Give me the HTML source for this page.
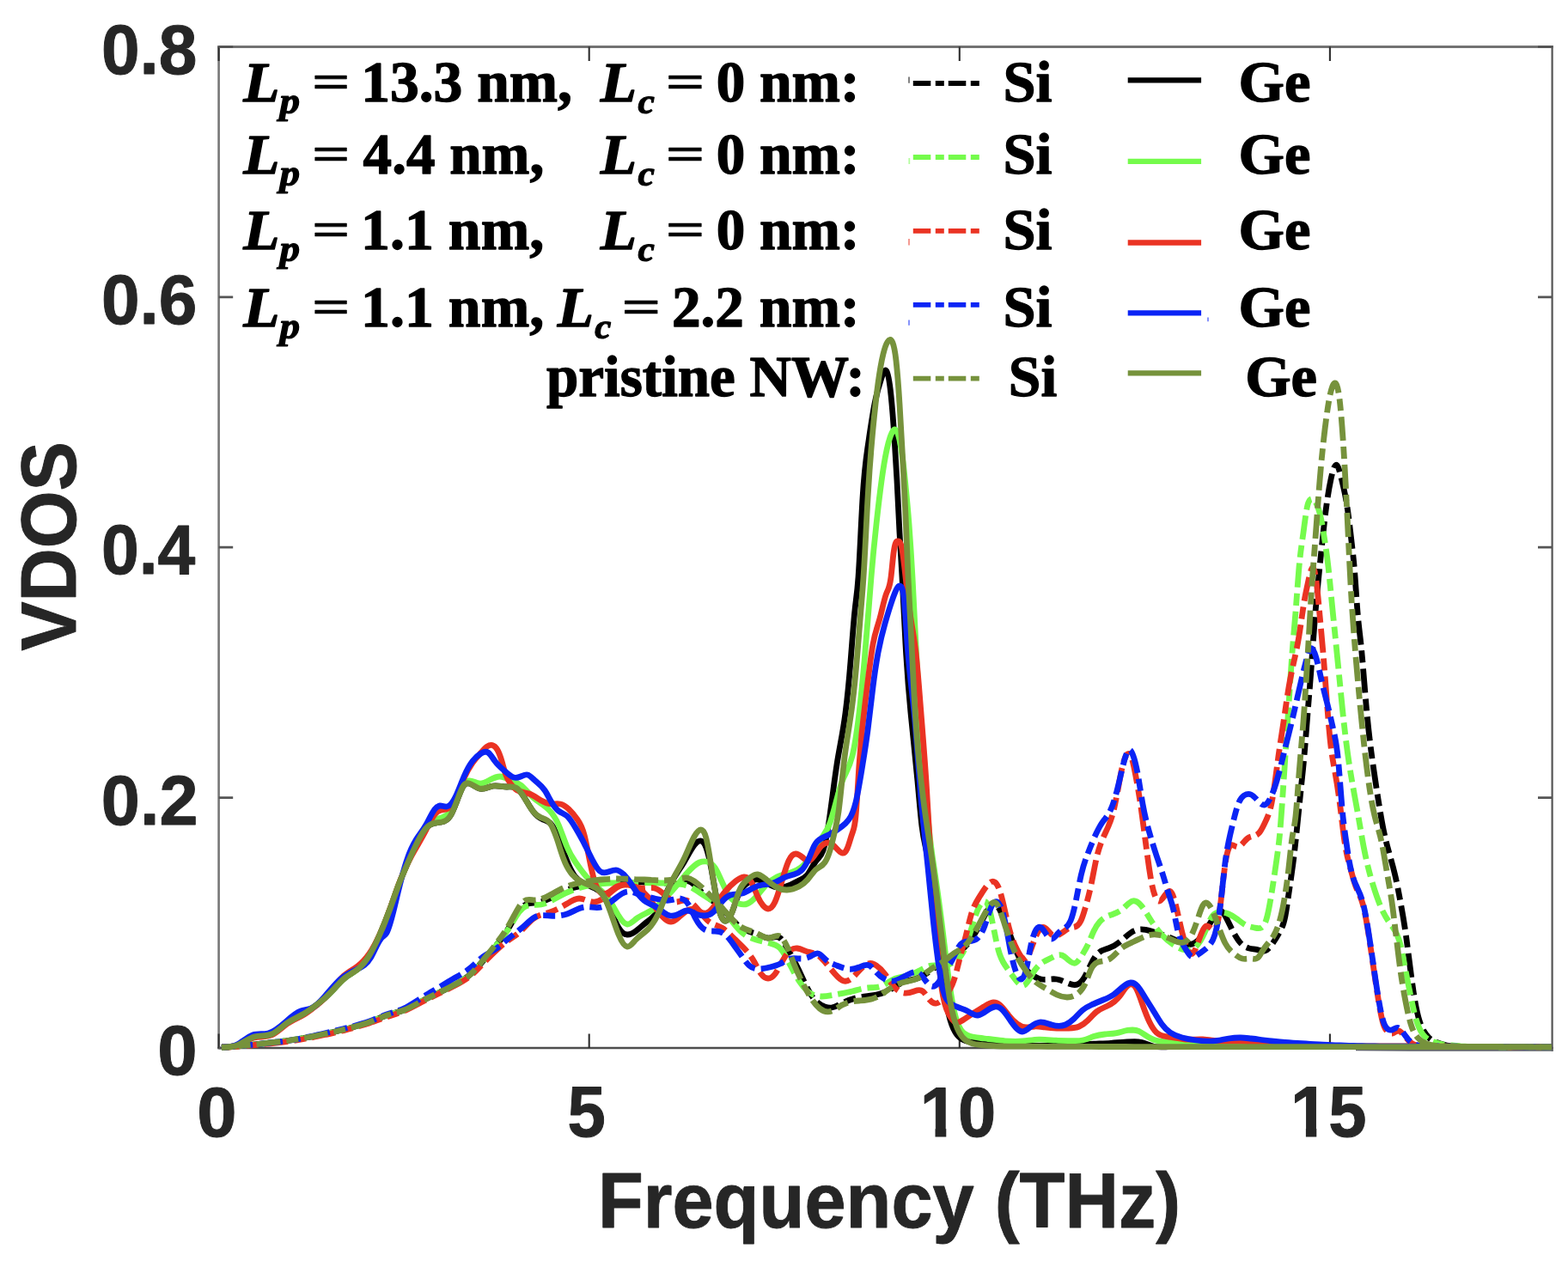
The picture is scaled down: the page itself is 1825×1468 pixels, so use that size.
<!DOCTYPE html>
<html lang="en"><head><meta charset="utf-8"><title>VDOS</title>
<style>
html,body{margin:0;padding:0;background:#fff;}
body{width:1825px;height:1468px;overflow:hidden;}
svg{display:block;}
.ax{font-family:"Liberation Sans",Arial,Helvetica,sans-serif;font-weight:bold;fill:#262626;stroke:#262626;stroke-width:0.9px;stroke-linejoin:round;}
.lg{font-family:"Liberation Serif","Times New Roman",Times,serif;font-weight:bold;fill:#000;font-size:68px;stroke:#000;stroke-width:1.3px;stroke-linejoin:round;}
.eq{stroke-width:0.8px;}
.it{font-style:italic;}
.sub{font-style:italic;font-size:47px;}
.cv{fill:none;stroke-width:6.8;stroke-linejoin:round;stroke-linecap:butt;}
.ds{stroke-dasharray:28 7 14 7;}
</style></head>
<body>
<svg width="1825" height="1468" viewBox="0 0 1825 1468">
<rect x="0" y="0" width="1825" height="1468" fill="#ffffff"/>
<g id="axes" fill="none">
<path d="M253.3 54.45H1807.7" stroke="#727272" stroke-width="2.9"/>
<path d="M254.6 53.1V1221.2" stroke="#777777" stroke-width="2.6"/>
<path d="M253.3 1220.0H1807.7" stroke="#4d4d4d" stroke-width="2.4"/>
<path d="M1806.6 53.1V1223.7" stroke="#555555" stroke-width="2.2"/>
<path d="M1578 1222.4L1640 1222.9H1807.7" stroke="#62666a" stroke-width="1.9"/>
<path d="M254.6 1220V1203.4M254.6 54.5V71.1M685.7 1220V1203.4M685.7 54.5V71.1M1116.8 1220V1203.4M1116.8 54.5V71.1M1547.9 1220V1203.4M1547.9 54.5V71.1" stroke="#2e2e2e" stroke-width="2.1"/>
<path d="M254.6 1220H271.2M1806.6 1220H1790M254.6 928.6H271.2M1806.6 928.6H1790M254.6 637.2H271.2M1806.6 637.2H1790M254.6 345.8H271.2M1806.6 345.8H1790M254.6 54.5H271.2M1806.6 54.5H1790" stroke="#555555" stroke-width="2.8"/>
</g>
<g id="ticklabels" class="ax" font-size="80">
<text transform="matrix(1.0436 0 0 1.0246 183.37 1251.18)">0</text>
<text transform="matrix(1.0124 0 0 1.0246 117.86 959.79)">0.2</text>
<text transform="matrix(0.9843 0 0 1.0246 117.95 668.40)">0.4</text>
<text transform="matrix(1.0028 0 0 1.0246 117.89 377.01)">0.6</text>
<text transform="matrix(1.0028 0 0 1.0246 117.89 85.63)">0.8</text>
<text transform="matrix(1.0410 0 0 1.0228 229.18 1322.98)">0</text>
<text transform="matrix(0.9976 0 0 1.0411 660.60 1322.96)">5</text>
<text transform="matrix(0.9938 0 0 1.0228 1070.73 1322.98)">10</text>
<text transform="matrix(0.9951 0 0 1.0411 1502.02 1322.96)">15</text>
</g>
<path id="onefoot" fill="#ffffff" d="M1073 1314h15.5v12h-15.5zM1101.3 1314h14v12h-14zM1504 1314h15.9v12h-15.9zM1532.3 1314h14v12h-14z"/>
<g id="axislabels" class="ax" font-size="89.5">
<text transform="matrix(0.9676 0 0 1.0050 695.89 1429.40)">Frequency (THz)</text>
<text transform="matrix(0.0000 -0.9610 1.0200 0.0000 88.40 757.80)">VDOS</text>
</g>
<g id="curves">
<path class="cv ds" stroke="#000000" stroke-dashoffset="19.6" d="M258 1219.5C261.2 1219.2 264.3 1219 267.5 1218.7C270.7 1218.4 273.8 1218.2 277 1217.9C280.2 1217.6 283.3 1217.3 286.5 1217C289.7 1216.6 292.8 1216.3 296 1216C299.5 1215.6 303 1215.3 306.5 1214.9C310 1214.5 313.5 1214.1 317 1213.7C320.5 1213.3 324 1212.9 327.5 1212.4C331 1212 334.5 1211.5 338 1211C341.5 1210.5 344.9 1209.9 348.4 1209.4C351.9 1208.8 355.3 1208.2 358.8 1207.5C362.3 1206.9 365.7 1206.2 369.2 1205.5C372.7 1204.8 376.1 1204.1 379.6 1203.3C383.1 1202.6 386.5 1201.8 390 1201C393.3 1200.2 396.7 1199.4 400 1198.6C403.3 1197.8 406.7 1196.9 410 1196C413.3 1195.1 416.7 1194.1 420 1193.2C423.3 1192.2 426.7 1191.2 430 1190C436.7 1187.6 443.3 1184.3 450 1182C456.7 1179.7 463.3 1178.5 470 1176C476.7 1173.5 483.3 1169.6 490 1166C496.7 1162.4 503.3 1159.2 510 1156C516.7 1152.8 523.3 1149.6 530 1146C536.7 1142.4 543.3 1138.3 550 1132C554 1128.2 558 1123.6 562 1119C567.3 1112.8 572.7 1106.6 578 1100C583.3 1093.4 588.7 1086.3 594 1077C597.3 1071.2 600.7 1064.5 604 1060C606.7 1056.4 609.3 1054.2 612 1053C616 1051.2 620 1051.4 624 1051C629.3 1050.4 634.7 1048.5 640 1046C646.7 1042.8 653.3 1038.7 660 1036C664.7 1034.1 669.3 1033 674 1032C676.9 1031.4 679.8 1030.8 682.7 1030.3C685.6 1029.8 688.4 1029.3 691.3 1028.9C694.2 1028.6 697.1 1028.3 700 1028C706 1027.5 712 1027.1 718 1027C721.6 1026.9 725.1 1027 728.7 1027C732.2 1027 735.8 1027 739.3 1027C742.9 1027 746.4 1026.9 750 1027C752.7 1027 755.3 1027.1 758 1027.3C760.7 1027.4 763.3 1027.6 766 1027.7C768.7 1027.9 771.3 1028 774 1028C777.1 1028 780.2 1027.7 783.3 1027.5C786.4 1027.3 789.6 1027.1 792.7 1026.5C795.8 1026 798.9 1025 802 1026C806.7 1027.5 811.3 1033.4 816 1038C822.7 1044.5 829.3 1048.3 836 1054C840.7 1058 845.3 1063 850 1068C854.7 1073 859.3 1078.1 864 1081C869.3 1084.4 874.7 1084.9 880 1087C885.3 1089.1 890.7 1092.6 896 1092C900 1091.6 904 1088.8 908 1092C910 1093.6 912 1096.7 914 1100C916.7 1104.4 919.3 1109 922 1114C924.7 1119 927.3 1124.3 930 1130C934.7 1139.9 939.3 1150.7 944 1158C949.3 1166.4 954.7 1170.1 960 1172C962.7 1172.9 965.3 1173.4 968 1173C972 1172.4 976 1170 980 1168C986.7 1164.6 993.3 1162.3 1000 1161C1006.7 1159.7 1013.3 1159.4 1020 1158C1025.3 1156.8 1030.7 1154.9 1036 1152C1040.7 1149.4 1045.3 1146.1 1050 1144C1056.7 1141.1 1063.3 1140.8 1070 1138C1075.3 1135.7 1080.7 1131.8 1086 1128C1090.7 1124.7 1095.3 1121.4 1100 1118C1103.3 1115.5 1106.7 1113 1110 1111C1113.3 1109 1116.7 1107.6 1120 1105C1124.7 1101.4 1129.3 1095.6 1134 1088C1138 1081.4 1142 1073.5 1146 1066C1148.7 1061 1151.3 1056.2 1154 1054C1156 1052.4 1158 1052.2 1160 1054C1162 1055.8 1164 1059.6 1166 1064C1168.7 1069.9 1171.3 1076.8 1174 1084C1177.3 1093 1180.7 1102.3 1184 1110C1187.3 1117.7 1190.7 1123.8 1194 1128C1196 1130.5 1198 1132.4 1200 1134C1204 1137.2 1208 1139.3 1212 1140C1218 1141.1 1224 1139.1 1230 1140C1234.7 1140.7 1239.3 1143.2 1244 1145C1247.3 1146.3 1250.7 1147.3 1254 1146C1256.7 1144.9 1259.3 1142.4 1262 1138C1264.7 1133.6 1267.3 1127.3 1270 1122C1272 1118 1274 1114.5 1276 1112C1280.7 1106.1 1285.3 1105.6 1290 1104C1294.7 1102.4 1299.3 1099.8 1304 1096C1308 1092.8 1312 1088.7 1316 1086C1319.3 1083.7 1322.7 1082.4 1326 1082C1330.7 1081.4 1335.3 1082.6 1340 1084C1344 1085.2 1348 1086.6 1352 1088C1358 1090.1 1364 1092.3 1370 1095C1376.7 1098 1383.3 1101.6 1390 1098C1394.7 1095.5 1399.3 1089.4 1404 1082C1407.3 1076.7 1410.7 1070.7 1414 1066C1416.7 1062.3 1419.3 1059.4 1422 1061C1424 1062.2 1426 1066 1428 1070C1430.7 1075.3 1433.3 1081.1 1436 1086C1438.7 1090.9 1441.3 1095.1 1444 1098C1447.3 1101.6 1450.7 1103.1 1454 1104C1457.7 1104.9 1461.3 1105 1465 1106C1467.3 1106.6 1469.7 1107.6 1472 1107C1474.7 1106.3 1477.3 1103.5 1480 1100C1483.3 1095.6 1486.7 1090.1 1490 1084C1492 1080.3 1494 1076.4 1496 1066C1497.3 1059.1 1498.7 1049.2 1500 1040C1501.7 1028.5 1503.3 1018 1505 1005C1506.7 992 1508.3 976.5 1510 960C1511.3 946.8 1512.7 932.9 1514 920C1515.3 907.1 1516.7 895.1 1518 880C1519.3 864.9 1520.7 846.8 1522 830C1523.3 813.2 1524.7 797.8 1526 780C1527.3 762.2 1528.7 742.1 1530 725C1531.3 707.9 1532.7 693.7 1534 680C1535.3 666.3 1536.7 653 1538 640C1539.7 623.8 1541.3 608.1 1543 595C1545 579.3 1547 567.4 1549 558C1551.3 547.1 1553.7 539.7 1556 541.6C1558 543.2 1560 551.6 1562 560C1564 568.4 1566 576.7 1568 590C1569.7 601.1 1571.3 615.7 1573 630C1574.3 641.4 1575.7 652.6 1577 670C1578 683.1 1579 699.7 1580 712C1581.3 728.4 1582.7 737.2 1584 750C1586 769.2 1588 797.3 1590 820C1592.7 850.3 1595.3 871.1 1598 890C1600 904.2 1602 917.3 1604 930C1606 942.7 1608 955 1610 965C1612 975 1614 982.8 1616 990C1618.7 999.6 1621.3 1008.3 1624 1020C1626 1028.8 1628 1039.2 1630 1050C1632 1060.8 1634 1072 1636 1086C1638 1100 1640 1116.7 1642 1132C1643.7 1144.8 1645.3 1156.5 1647 1166C1648.7 1175.5 1650.3 1182.6 1652 1188C1653.7 1193.4 1655.3 1197 1657 1200C1659 1203.5 1661 1206.1 1663 1208C1666 1210.9 1669 1212.3 1672 1213.5C1676 1215.1 1680 1216.3 1684 1217C1689.3 1218 1694.7 1218.2 1700 1218.3C1706.7 1218.4 1713.3 1218.5 1720 1218.5C1723.6 1218.5 1727.2 1218.6 1730.8 1218.6C1734.3 1218.6 1737.9 1218.6 1741.5 1218.7C1745.1 1218.7 1748.7 1218.7 1752.2 1218.7C1755.8 1218.8 1759.4 1218.8 1763 1218.8C1766.6 1218.8 1770.2 1218.9 1773.8 1218.9C1777.3 1218.9 1780.9 1218.9 1784.5 1218.9C1788.1 1218.9 1791.7 1219 1795.2 1219C1798.8 1219 1802.4 1219 1806 1219"/>
<path class="cv" stroke="#000000" d="M258 1219C264 1219.1 270 1219.3 276 1217C282.7 1214.5 289.3 1208.9 296 1207C302.7 1205.1 309.3 1206.8 316 1204C322 1201.5 328 1195.3 334 1191C340.7 1186.3 347.3 1184 354 1180C356.7 1178.4 359.3 1176.5 362 1174.6C364.7 1172.7 367.3 1170.7 370 1168.6C372.7 1166.5 375.3 1164.4 378 1162C380.7 1159.6 383.3 1157 386 1154.2C388.7 1151.4 391.3 1148.4 394 1145.6C396.7 1142.8 399.3 1140.1 402 1138C407.3 1133.8 412.7 1131.6 418 1127C422 1123.5 426 1118.6 430 1112C434 1105.4 438 1097.1 442 1088C446 1078.9 450 1069 454 1058C457.3 1048.8 460.7 1038.8 464 1030C467.3 1021.2 470.7 1013.6 474 1006C478 996.9 482 987.8 486 980C490 972.2 494 965.6 498 962C503.3 957.3 508.7 957.9 514 957C517.3 956.4 520.7 955.2 524 950C526.7 945.8 529.3 939.1 532 932C534.7 924.9 537.3 917.3 540 914C542 911.5 544 911.4 546 912C550 913.1 554 917 558 918C563.3 919.4 568.7 915.9 574 915C579.3 914.1 584.7 916 590 916C594 916 598 915 602 918C604.7 920 607.3 923.7 610 928C613.3 933.3 616.7 939.5 620 944C624 949.4 628 952.4 632 954C635.3 955.4 638.7 955.8 642 960C644.7 963.4 647.3 969.2 650 976C653 983.6 656 992.4 659 1000C662.3 1008.5 665.7 1015.5 669 1020C672.3 1024.5 675.7 1026.3 679 1028C683.3 1030.2 687.7 1032 692 1034C695.3 1035.5 698.7 1037.2 702 1042C704.7 1045.8 707.3 1051.7 710 1058C713.3 1065.9 716.7 1074.5 720 1080C723.3 1085.5 726.7 1087.8 730 1088C733.3 1088.2 736.7 1086.5 740 1084C744 1081.1 748 1077.1 752 1074C756.7 1070.3 761.3 1067.7 766 1060C770.7 1052.3 775.3 1039.4 780 1030C785.3 1019.2 790.7 1012.9 796 1004C800 997.3 804 989.2 808 984C810.7 980.5 813.3 978.3 816 979C818 979.5 820 981.6 822 987C824 992.4 826 1001.2 828 1012C830 1022.8 832 1035.7 834 1046C836 1056.3 838 1063.9 840 1068C841.7 1071.4 843.3 1072.5 845 1072C847.3 1071.3 849.7 1067.7 852 1062C854.7 1055.4 857.3 1046.1 860 1040C863.3 1032.4 866.7 1030 870 1028C874 1025.6 878 1023.6 882 1024C885.3 1024.3 888.7 1026.2 892 1028C896 1030.2 900 1032.3 904 1033C909.3 1033.9 914.7 1032.4 920 1030C924 1028.2 928 1026 932 1024C934.7 1022.7 937.3 1021.4 940 1018C943.3 1013.7 946.7 1006.1 950 1002C952.7 998.7 955.3 997.7 958 990C960 984.2 962 974.6 964 962C967.3 940.9 970.7 911.3 974 890C977.3 868.7 980.7 855.6 984 830C986 814.6 988 794.7 990 770C991.7 749.4 993.3 725.5 995 710C996.3 697.6 997.7 690.6 999 672C1000.7 648.8 1002.3 607.6 1004 580C1006 546.9 1008 533.6 1010 520C1012.7 501.9 1015.3 483.5 1018 470C1020.7 456.5 1023.3 447.9 1026 440C1027.9 434.5 1029.7 429.4 1031.6 431.6C1033.4 433.7 1035.2 442.7 1037 460C1038.3 472.8 1039.7 490.3 1041 510C1042 524.8 1043 540.9 1044 560C1045 579.1 1046 601.3 1047 620C1048 638.7 1049 653.8 1050 672C1051.3 696.3 1052.7 726 1054 750C1056 786 1058 809.3 1060 830C1062.7 857.7 1065.3 880.9 1068 910C1069.7 928.2 1071.3 948.6 1073 962C1075.3 980.7 1077.7 985.5 1080 1000C1082 1012.5 1084 1032.1 1086 1050C1088 1067.9 1090 1083.9 1092 1100C1094 1116.1 1096 1132.2 1098 1146C1100 1159.8 1102 1171.4 1104 1180C1106.7 1191.5 1109.3 1197.7 1112 1202C1114.7 1206.3 1117.3 1208.5 1120 1210C1123.3 1211.9 1126.7 1212.6 1130 1213C1135 1213.6 1140 1213.6 1145 1214C1150 1214.4 1155 1215.3 1160 1216C1166.7 1216.9 1173.3 1217.4 1180 1217.5C1183.3 1217.6 1186.7 1217.5 1190 1217.5C1193.3 1217.5 1196.7 1217.5 1200 1217.5C1203.3 1217.5 1206.7 1217.5 1210 1217.5C1213.3 1217.5 1216.7 1217.5 1220 1217.5C1223.3 1217.5 1226.7 1217.5 1230 1217.5C1233.3 1217.5 1236.7 1217.4 1240 1217.5C1243.3 1217.6 1246.7 1217.7 1250 1217.5C1254 1217.2 1258 1216.5 1262 1216C1265.7 1215.6 1269.3 1215.4 1273 1215.2C1279.7 1214.9 1286.3 1214.7 1293 1214.3C1299.3 1214 1305.7 1213.5 1312 1213C1314.8 1212.8 1317.7 1212.6 1320.5 1212.6C1323.3 1212.6 1326.2 1212.9 1329 1213.6C1331.3 1214.2 1333.7 1215.1 1336 1216C1338.3 1216.9 1340.7 1217.7 1343 1218.2C1348.7 1219.4 1354.3 1218.8 1360 1218.6C1363.6 1218.5 1367.2 1218.6 1370.8 1218.6C1374.4 1218.7 1377.9 1218.6 1381.5 1218.6C1385.1 1218.6 1388.7 1218.6 1392.3 1218.6C1395.9 1218.7 1399.5 1218.7 1403.1 1218.7C1406.7 1218.7 1410.3 1218.7 1413.8 1218.7C1417.4 1218.7 1421 1218.7 1424.6 1218.7C1428.2 1218.7 1431.8 1218.7 1435.4 1218.7C1439 1218.7 1442.6 1218.7 1446.2 1218.7C1449.7 1218.7 1453.3 1218.7 1456.9 1218.7C1460.5 1218.7 1464.1 1218.7 1467.7 1218.7C1471.3 1218.7 1474.9 1218.7 1478.5 1218.7C1482.1 1218.7 1485.6 1218.7 1489.2 1218.7C1492.8 1218.7 1496.4 1218.7 1500 1218.7C1503.7 1218.7 1507.3 1218.7 1511 1218.7C1514.7 1218.7 1518.3 1218.7 1522 1218.7C1525.7 1218.7 1529.3 1218.7 1533 1218.7C1536.7 1218.7 1540.3 1218.7 1544 1218.7C1547.7 1218.7 1551.3 1218.7 1555 1218.7C1558.7 1218.7 1562.3 1218.7 1566 1218.7C1569.7 1218.7 1573.3 1218.6 1577 1218.6C1580.7 1218.6 1584.3 1218.6 1588 1218.6C1591.7 1218.6 1595.3 1218.6 1599 1218.6C1602.7 1218.6 1606.3 1218.6 1610 1218.6C1613.7 1218.6 1617.3 1218.6 1621 1218.6C1624.7 1218.6 1628.3 1218.6 1632 1218.6C1635.7 1218.6 1639.3 1218.6 1643 1218.6C1646.7 1218.6 1650.3 1218.5 1654 1218.5C1657.7 1218.5 1661.3 1218.5 1665 1218.5C1668.7 1218.5 1672.3 1218.5 1676 1218.5C1679.7 1218.5 1683.3 1218.5 1687 1218.5C1690.7 1218.5 1694.3 1218.5 1698 1218.5C1701.7 1218.5 1705.3 1218.5 1709 1218.5C1712.7 1218.5 1716.3 1218.5 1720 1218.5C1723.6 1218.5 1727.2 1218.5 1730.8 1218.5C1734.3 1218.5 1737.9 1218.5 1741.5 1218.5C1745.1 1218.6 1748.7 1218.6 1752.2 1218.6C1755.8 1218.6 1759.4 1218.6 1763 1218.7C1766.6 1218.7 1770.2 1218.7 1773.8 1218.7C1777.3 1218.8 1780.9 1218.8 1784.5 1218.8C1788.1 1218.9 1791.7 1218.9 1795.2 1218.9C1798.8 1218.9 1802.4 1219 1806 1219"/>
<path class="cv ds" stroke="#75fb4c" stroke-dashoffset="8.6" d="M258 1219.5C261.2 1219.2 264.3 1219 267.5 1218.7C270.7 1218.4 273.8 1218.2 277 1217.9C280.2 1217.6 283.3 1217.3 286.5 1217C289.7 1216.6 292.8 1216.3 296 1216C299.5 1215.6 303 1215.3 306.5 1214.9C310 1214.5 313.5 1214.1 317 1213.7C320.5 1213.3 324 1212.9 327.5 1212.4C331 1212 334.5 1211.5 338 1211C341.5 1210.5 344.9 1209.9 348.4 1209.4C351.9 1208.8 355.3 1208.2 358.8 1207.5C362.3 1206.9 365.7 1206.2 369.2 1205.5C372.7 1204.8 376.1 1204.1 379.6 1203.3C383.1 1202.6 386.5 1201.8 390 1201C393.3 1200.2 396.7 1199.4 400 1198.6C403.3 1197.8 406.7 1196.9 410 1196C413.3 1195.1 416.7 1194.1 420 1193.2C423.3 1192.2 426.7 1191.2 430 1190C436.7 1187.6 443.3 1184.3 450 1182C456.7 1179.7 463.3 1178.5 470 1176C476.7 1173.5 483.3 1169.6 490 1166C496.7 1162.4 503.3 1159.2 510 1156C516.7 1152.8 523.3 1149.6 530 1146C536.7 1142.4 543.3 1138.3 550 1132C554 1128.2 558 1123.6 562 1119C567.3 1112.8 572.7 1106.5 578 1100C583.3 1093.5 588.7 1086.7 594 1078C597.3 1072.5 600.7 1066.3 604 1062C606.7 1058.5 609.3 1056.3 612 1055C618 1052.1 624 1053.9 630 1053C636.7 1052 643.3 1047.7 650 1044C656.7 1040.3 663.3 1037.3 670 1035C676.7 1032.7 683.3 1031.1 690 1030C696.7 1028.9 703.3 1028.3 710 1028C716.7 1027.7 723.3 1027.6 730 1027.5C736.7 1027.4 743.3 1027.4 750 1027.5C756.7 1027.6 763.3 1027.8 770 1028C776.7 1028.2 783.3 1028.3 790 1029C793.3 1029.3 796.7 1029.8 800 1031C806.7 1033.4 813.3 1038.7 820 1043C825.3 1046.4 830.7 1049.2 836 1054C840.7 1058.2 845.3 1064.1 850 1070C854.7 1075.9 859.3 1082 864 1086C869.3 1090.6 874.7 1092.4 880 1094C885.3 1095.6 890.7 1096.8 896 1098C900 1098.9 904 1099.7 908 1104C912 1108.3 916 1116.2 920 1124C923.3 1130.5 926.7 1136.8 930 1142C933.3 1147.2 936.7 1151.2 940 1154C945.3 1158.5 950.7 1159.9 956 1160C961.3 1160.1 966.7 1159 972 1158C978.7 1156.7 985.3 1155.7 992 1154C998 1152.5 1004 1150.6 1010 1150C1015.3 1149.5 1020.7 1150.1 1026 1148C1030.7 1146.1 1035.3 1142.2 1040 1140C1045.3 1137.5 1050.7 1137.4 1056 1136C1060.7 1134.8 1065.3 1132.5 1070 1130C1074.7 1127.5 1079.3 1124.8 1084 1124C1089.3 1123.1 1094.7 1124.9 1100 1124C1103.3 1123.5 1106.7 1121.9 1110 1120C1114.7 1117.4 1119.3 1114.1 1124 1102C1127.3 1093.4 1130.7 1080.3 1134 1070C1137.3 1059.7 1140.7 1052.3 1144 1050C1146 1048.6 1148 1049.1 1150 1054C1152 1058.9 1154 1068.1 1156 1078C1158 1087.9 1160 1098.6 1162 1106C1164.7 1115.9 1167.3 1120.1 1170 1124C1173.3 1128.9 1176.7 1133.5 1180 1138C1184 1143.4 1188 1148.9 1192 1147C1196 1145.1 1200 1136 1204 1130C1207.3 1125 1210.7 1122.1 1214 1120C1217.3 1117.9 1220.7 1116.6 1224 1115C1228 1113 1232 1110.5 1236 1112C1238.7 1113 1241.3 1115.7 1244 1118C1246.7 1120.3 1249.3 1122.2 1252 1121C1254.7 1119.8 1257.3 1115.4 1260 1111C1262.3 1107.1 1264.7 1103.2 1267 1098C1269 1093.6 1271 1088.2 1273 1084C1275.3 1079 1277.7 1075.6 1280 1073C1285.3 1067.1 1290.7 1066 1296 1064C1300 1062.5 1304 1060.6 1308 1057C1311.3 1054 1314.7 1050 1318 1049C1321.3 1048 1324.7 1050.1 1328 1054C1332 1058.6 1336 1065.8 1340 1072C1344 1078.2 1348 1083.6 1352 1088C1356.7 1093.1 1361.3 1096.9 1366 1100C1370.7 1103.1 1375.3 1105.4 1380 1106C1384 1106.5 1388 1105.8 1392 1102C1395.3 1098.8 1398.7 1093.6 1402 1086C1404.7 1079.9 1407.3 1072.4 1410 1068C1413.3 1062.5 1416.7 1062 1420 1062C1423.3 1062 1426.7 1062.6 1430 1064C1433.3 1065.4 1436.7 1067.5 1440 1070C1443.3 1072.5 1446.7 1075.3 1450 1077C1453.3 1078.7 1456.7 1079.2 1460 1080C1462.7 1080.6 1465.3 1081.4 1468 1080C1470 1078.9 1472 1076.7 1474 1070C1476 1063.3 1478 1052.3 1480 1040C1482 1027.7 1484 1014 1486 1000C1487.3 990.7 1488.7 981.1 1490 966C1491.3 950.9 1492.7 930.1 1494 910C1496 879.8 1498 851 1500 820C1501.3 799.3 1502.7 777.6 1504 760C1505.3 742.4 1506.7 728.9 1508 712C1509.3 695.1 1510.7 674.7 1512 660C1513.7 641.6 1515.3 632.1 1517 620C1518.3 610.3 1519.7 598.9 1521 592C1522.3 585.1 1523.7 582.7 1525 581.6C1527.3 579.6 1529.7 581.4 1532 586C1534 590 1536 596 1538 606C1539.3 612.7 1540.7 621.1 1542 630C1543.3 638.9 1544.7 648.1 1546 660C1547.3 671.9 1548.7 686.4 1550 700C1550.7 706.8 1551.3 713.4 1552 720C1554 739.8 1556 759.5 1558 780C1560 800.5 1562 821.7 1564 840C1566.7 864.4 1569.3 883.6 1572 900C1574.7 916.4 1577.3 930 1580 945C1582.7 960 1585.3 976.5 1588 990C1591.3 1006.9 1594.7 1019.2 1598 1030C1602 1043 1606 1053.9 1610 1062C1613.3 1068.7 1616.7 1073.5 1620 1078C1623.3 1082.5 1626.7 1086.6 1630 1100C1632 1108 1634 1119.4 1636 1130C1638 1140.6 1640 1150.4 1642 1160C1644 1169.6 1646 1179 1648 1186C1650.7 1195.3 1653.3 1200.4 1656 1204C1659.3 1208.4 1662.7 1210.5 1666 1212C1670.7 1214.1 1675.3 1215.3 1680 1216C1683.3 1216.5 1686.7 1216.7 1690 1217C1693.3 1217.3 1696.7 1217.5 1700 1217.8C1703.3 1218 1706.7 1218.1 1710 1218.3C1713.3 1218.4 1716.7 1218.4 1720 1218.5C1723.6 1218.6 1727.2 1218.6 1730.8 1218.6C1734.3 1218.7 1737.9 1218.7 1741.5 1218.7C1745.1 1218.8 1748.7 1218.8 1752.2 1218.8C1755.8 1218.8 1759.4 1218.9 1763 1218.9C1766.6 1218.9 1770.2 1218.9 1773.8 1218.9C1777.3 1218.9 1780.9 1219 1784.5 1219C1788.1 1219 1791.7 1219 1795.2 1219C1798.8 1219 1802.4 1219 1806 1219"/>
<path class="cv" stroke="#75fb4c" d="M258 1219C264 1219.1 270 1219.3 276 1217C282.7 1214.5 289.3 1208.9 296 1207C302.7 1205.1 309.3 1206.8 316 1204C322 1201.5 328 1195.3 334 1191C340.7 1186.3 347.3 1184 354 1180C356.7 1178.4 359.3 1176.5 362 1174.6C364.7 1172.7 367.3 1170.7 370 1168.6C372.7 1166.5 375.3 1164.4 378 1162C380.7 1159.6 383.3 1157 386 1154.2C388.7 1151.4 391.3 1148.4 394 1145.6C396.7 1142.8 399.3 1140.1 402 1138C407.3 1133.8 412.7 1131.6 418 1127C422 1123.5 426 1118.6 430 1112C434 1105.4 438 1097.1 442 1088C446 1078.9 450 1069 454 1058C457.3 1048.8 460.7 1038.8 464 1030C467.3 1021.2 470.7 1013.5 474 1006C478 997 482 988.1 486 980C490 971.9 494 964.4 498 960C503.3 954.1 508.7 953.7 514 952C517.3 950.9 520.7 949.4 524 945C526.7 941.5 529.3 936.2 532 930C534.7 923.8 537.3 916.8 540 913C542 910.2 544 909.2 546 909C550 908.7 554 911.6 558 912C562 912.4 566 910.1 570 908C574 905.9 578 903.9 582 904C586 904.1 590 906.3 594 908C598 909.7 602 910.9 606 914C610.7 917.6 615.3 923.7 620 928C626.7 934.2 633.3 936.8 640 944C643.3 947.6 646.7 952.4 650 960C653.3 967.6 656.7 978.1 660 986C663.3 993.9 666.7 999.1 670 1004C674 1009.9 678 1015.3 682 1020C686 1024.7 690 1028.6 694 1032C698.7 1036 703.3 1039.4 708 1046C712 1051.6 716 1059.6 720 1066C723.3 1071.4 726.7 1075.7 730 1076C733.3 1076.3 736.7 1072.7 740 1070C746 1065.2 752 1063.7 758 1060C763.3 1056.7 768.7 1051.6 774 1046C779.3 1040.4 784.7 1034.4 790 1028C793.3 1024 796.7 1019.8 800 1016C804.7 1010.7 809.3 1006 814 1004C816.7 1002.9 819.3 1002.6 822 1003C825.3 1003.5 828.7 1005.1 832 1010C834.7 1013.9 837.3 1020 840 1026C842.7 1032 845.3 1037.8 848 1042C852 1048.3 856 1050.7 860 1052C863.3 1053.1 866.7 1053.4 870 1052C873.3 1050.6 876.7 1047.7 880 1044C884 1039.6 888 1034.2 892 1030C896 1025.8 900 1022.9 904 1021C909.3 1018.4 914.7 1017.6 920 1016C924 1014.8 928 1013.1 932 1010C936 1006.9 940 1002.2 944 996C948 989.8 952 982.1 956 976C959.3 970.9 962.7 967.1 966 958C970.7 945.3 975.3 922.5 980 910C984 899.3 988 896.1 992 880C994.7 869.2 997.3 852.7 1000 830C1002 813 1004 792.4 1006 770C1007.7 751.3 1009.3 731.3 1011 710C1012 697.2 1013 684.1 1014 672C1016 647.9 1018 628.3 1020 610C1022 591.7 1024 574.6 1026 560C1028 545.4 1030 533.3 1032 524C1034 514.7 1036 508.1 1038 504C1039.2 501.5 1040.4 499.9 1041.6 500C1043.1 500.1 1044.5 502.6 1046 508C1047.3 512.9 1048.7 520.3 1050 530C1051.3 539.7 1052.7 551.8 1054 565C1055.3 578.2 1056.7 592.7 1058 610C1059.3 627.3 1060.7 647.5 1062 672C1063.7 702.7 1065.3 740.1 1067 770C1069.3 811.8 1071.7 838.7 1074 870C1076.3 901.3 1078.7 937.2 1081 962C1083.3 986.8 1085.7 1000.7 1088 1016C1090.7 1033.4 1093.3 1052.7 1096 1074C1098.7 1095.3 1101.3 1118.6 1104 1138C1106.7 1157.4 1109.3 1172.9 1112 1183C1115 1194.4 1118 1199.1 1121 1202C1124.7 1205.5 1128.3 1206.3 1132 1207C1135.3 1207.6 1138.7 1208.1 1142 1208.5C1144.7 1208.8 1147.3 1209.2 1150 1209.5C1156.7 1210.3 1163.3 1211.3 1170 1211.8C1176.7 1212.3 1183.3 1212.5 1190 1212C1196.3 1211.5 1202.7 1210.4 1209 1210.2C1215.7 1210 1222.3 1210.8 1229 1211.2C1235.7 1211.6 1242.3 1211.5 1249 1211.6C1252.7 1211.7 1256.3 1211.8 1260 1211C1264.3 1210.1 1268.7 1208 1273 1206.6C1277.3 1205.2 1281.7 1204.4 1286 1204C1290.5 1203.6 1295 1203.5 1299.5 1202.6C1303.8 1201.7 1308.2 1200.1 1312.5 1199.4C1314.3 1199.1 1316.2 1199 1318 1199C1320.7 1199.1 1323.3 1199.5 1326 1200.7C1328.1 1201.7 1330.3 1203.2 1332.4 1204.6C1334.6 1206.1 1336.8 1207.5 1339 1208.6C1341.2 1209.7 1343.3 1210.6 1345.5 1211.2C1348.8 1212.1 1352.1 1212.5 1355.4 1212.8C1358.6 1213.1 1361.8 1213.4 1365 1213.6C1370 1213.9 1375 1214.1 1380 1214.4C1383.3 1214.6 1386.7 1214.8 1390 1215C1393.3 1215.2 1396.7 1215.4 1400 1215.6C1403.3 1215.8 1406.7 1216 1410 1216.1C1413.3 1216.3 1416.7 1216.4 1420 1216.5C1423.3 1216.6 1426.7 1216.7 1430 1216.7C1433.3 1216.8 1436.7 1216.8 1440 1216.9C1443.3 1217 1446.7 1217 1450 1217.1C1453.3 1217.1 1456.7 1217.2 1460 1217.2C1463.3 1217.3 1466.7 1217.3 1470 1217.3C1473.3 1217.4 1476.7 1217.4 1480 1217.4C1483.3 1217.5 1486.7 1217.5 1490 1217.5C1493.3 1217.6 1496.7 1217.6 1500 1217.6C1503.7 1217.6 1507.3 1217.6 1511 1217.7C1514.7 1217.7 1518.3 1217.7 1522 1217.7C1525.7 1217.8 1529.3 1217.8 1533 1217.8C1536.7 1217.8 1540.3 1217.8 1544 1217.9C1547.7 1217.9 1551.3 1217.9 1555 1217.9C1558.7 1217.9 1562.3 1217.9 1566 1217.9C1569.7 1218 1573.3 1218 1577 1218C1580.7 1218 1584.3 1218 1588 1218C1591.7 1218 1595.3 1218.1 1599 1218.1C1602.7 1218.1 1606.3 1218.1 1610 1218.1C1613.7 1218.1 1617.3 1218.1 1621 1218.1C1624.7 1218.1 1628.3 1218.2 1632 1218.2C1635.7 1218.2 1639.3 1218.2 1643 1218.2C1646.7 1218.2 1650.3 1218.2 1654 1218.2C1657.7 1218.3 1661.3 1218.3 1665 1218.3C1668.7 1218.3 1672.3 1218.3 1676 1218.3C1679.7 1218.3 1683.3 1218.3 1687 1218.4C1690.7 1218.4 1694.3 1218.4 1698 1218.4C1701.7 1218.4 1705.3 1218.4 1709 1218.4C1712.7 1218.5 1716.3 1218.5 1720 1218.5C1723.6 1218.5 1727.2 1218.5 1730.8 1218.6C1734.3 1218.6 1737.9 1218.6 1741.5 1218.6C1745.1 1218.6 1748.7 1218.7 1752.2 1218.7C1755.8 1218.7 1759.4 1218.7 1763 1218.7C1766.6 1218.8 1770.2 1218.8 1773.8 1218.8C1777.3 1218.8 1780.9 1218.8 1784.5 1218.9C1788.1 1218.9 1791.7 1218.9 1795.2 1218.9C1798.8 1219 1802.4 1219 1806 1219"/>
<path class="cv ds" stroke="#ea3323" stroke-dashoffset="6.4" d="M258 1219.5C261.2 1219.3 264.3 1219.1 267.5 1218.8C270.7 1218.6 273.8 1218.4 277 1218.1C280.2 1217.9 283.3 1217.6 286.5 1217.3C289.7 1217.1 292.8 1216.8 296 1216.5C299.5 1216.2 303 1215.9 306.5 1215.5C310 1215.2 313.5 1214.9 317 1214.5C320.5 1214.1 324 1213.7 327.5 1213.3C331 1212.9 334.5 1212.5 338 1212C341.5 1211.5 344.9 1211 348.4 1210.4C351.9 1209.9 355.3 1209.2 358.8 1208.6C362.3 1207.9 365.7 1207.3 369.2 1206.5C372.7 1205.8 376.1 1205.1 379.6 1204.3C383.1 1203.6 386.5 1202.8 390 1202C393.3 1201.2 396.7 1200.4 400 1199.6C403.3 1198.7 406.7 1197.8 410 1196.9C413.3 1196 416.7 1195 420 1194C423.3 1193.1 426.7 1192.1 430 1191C436.7 1188.8 443.3 1186.3 450 1184C456.7 1181.7 463.3 1179.8 470 1177C476.7 1174.2 483.3 1170.5 490 1167C496.7 1163.5 503.3 1160.3 510 1157C516.7 1153.7 523.3 1150.5 530 1147C536.7 1143.5 543.3 1139.8 550 1134C554 1130.5 558 1126.2 562 1122C567.3 1116.4 572.7 1110.9 578 1106C582 1102.3 586 1098.9 590 1096C595.3 1092.1 600.7 1089 606 1084C610.7 1079.6 615.3 1073.7 620 1070C626.7 1064.8 633.3 1064.2 640 1062C646.7 1059.8 653.3 1056.1 660 1052C664.7 1049.1 669.3 1046.1 674 1046C679.3 1045.9 684.7 1049.6 690 1050C694 1050.3 698 1048.8 702 1046C706 1043.2 710 1039.1 714 1036C719.3 1031.9 724.7 1029.6 730 1030C735.3 1030.4 740.7 1033.5 746 1034C751.3 1034.5 756.7 1032.4 762 1034C766 1035.2 770 1038.4 774 1042C778 1045.6 782 1049.6 786 1050C789.3 1050.4 792.7 1048.3 796 1048C800.7 1047.6 805.3 1050.9 810 1056C814.7 1061.1 819.3 1068.1 824 1072C829.3 1076.5 834.7 1076.9 840 1080C845.3 1083.1 850.7 1088.8 856 1094C860 1097.9 864 1101.5 868 1106C871.3 1109.7 874.7 1114.1 878 1120C880.7 1124.7 883.3 1130.4 886 1134C888.7 1137.6 891.3 1139 894 1139C896.7 1139 899.3 1137.5 902 1134C904.7 1130.5 907.3 1124.9 910 1120C912.7 1115.1 915.3 1110.7 918 1108C921.3 1104.6 924.7 1103.6 928 1104C932 1104.4 936 1106.8 940 1108C944 1109.2 948 1109.4 952 1112C955.3 1114.2 958.7 1118 962 1122C965.3 1126 968.7 1130.2 972 1134C975.3 1137.8 978.7 1141.1 982 1142C984.7 1142.7 987.3 1141.9 990 1140C993.3 1137.6 996.7 1133.6 1000 1130C1003.3 1126.4 1006.7 1123.1 1010 1122C1013.3 1120.9 1016.7 1121.8 1020 1124C1023.3 1126.2 1026.7 1129.5 1030 1134C1033.3 1138.5 1036.7 1144 1040 1148C1044 1152.8 1048 1155.3 1052 1156C1056 1156.7 1060 1155.5 1064 1154C1067.3 1152.8 1070.7 1151.3 1074 1154C1076.7 1156.1 1079.3 1160.9 1082 1164C1084.7 1167.1 1087.3 1168.5 1090 1168C1093.3 1167.4 1096.7 1163.9 1100 1160C1103.3 1156.1 1106.7 1151.8 1110 1142C1111.3 1138.1 1112.7 1133.2 1114 1128C1115.3 1122.8 1116.7 1117.1 1118 1112C1120 1104.3 1122 1097.8 1124 1090C1126 1082.2 1128 1072.9 1130 1066C1133.3 1054.5 1136.7 1049.3 1140 1044C1142.7 1039.8 1145.3 1035.5 1148 1032C1151.3 1027.7 1154.7 1024.6 1158 1027C1160 1028.4 1162 1031.8 1164 1038C1166 1044.2 1168 1053.2 1170 1062C1172 1070.8 1174 1079.3 1176 1086C1178.7 1095 1181.3 1100.8 1184 1106C1186.7 1111.2 1189.3 1115.6 1192 1116C1194 1116.3 1196 1114.2 1198 1110C1200 1105.8 1202 1099.3 1204 1094C1206 1088.7 1208 1084.4 1210 1082C1212 1079.6 1214 1078.9 1216 1080C1218.7 1081.4 1221.3 1085.9 1224 1088C1228 1091.1 1232 1088.8 1236 1086C1239.3 1083.6 1242.7 1080.9 1246 1080C1250 1078.9 1254 1080.4 1258 1072C1260 1067.8 1262 1061.1 1264 1054C1266 1046.9 1268 1039.5 1270 1030C1272 1020.5 1274 1008.9 1276 1000C1278 991.1 1280 985.1 1282 980C1284.7 973.2 1287.3 968.2 1290 962C1292 957.3 1294 951.9 1296 944C1297.7 937.4 1299.3 929 1301 920C1302.7 911 1304.3 901.3 1306 894C1308 885.2 1310 879.9 1312 878C1313.7 876.5 1315.3 877.3 1317 882C1318.7 886.7 1320.3 895.1 1322 904C1324 914.7 1326 926.1 1328 940C1329.3 949.3 1330.7 959.7 1332 970C1333.3 980.3 1334.7 990.4 1336 1000C1337.3 1009.6 1338.7 1018.8 1340 1026C1341.3 1033.2 1342.7 1038.3 1344 1042C1345.7 1046.6 1347.3 1048.8 1349 1049C1351.3 1049.2 1353.7 1045.3 1356 1042C1358.7 1038.2 1361.3 1035.3 1364 1040C1366 1043.5 1368 1051.4 1370 1060C1372 1068.6 1374 1078.1 1376 1086C1378.7 1096.5 1381.3 1104.2 1384 1108C1385.3 1109.9 1386.7 1110.8 1388 1110C1390 1108.7 1392 1103.5 1394 1098C1397.3 1088.9 1400.7 1079.2 1404 1078C1406.7 1077 1409.3 1081.5 1412 1082C1414 1082.4 1416 1080.6 1418 1070C1419.3 1062.9 1420.7 1051.9 1422 1040C1423.3 1028.1 1424.7 1015.2 1426 1006C1427.3 996.8 1428.7 991.3 1430 988C1433.3 979.8 1436.7 985.6 1440 986C1444 986.5 1448 979.1 1452 976C1456.7 972.4 1461.3 974.6 1466 969C1468.7 965.8 1471.3 960 1474 954C1476 949.5 1478 944.8 1480 935C1481.3 928.5 1482.7 919.7 1484 910C1485.3 900.3 1486.7 889.6 1488 880C1490 865.6 1492 853.4 1494 840C1496 826.6 1498 811.9 1500 800C1502 788.1 1504 778.9 1506 770C1508 761.1 1510 752.3 1512 740C1514 727.7 1516 711.7 1518 700C1519.3 692.2 1520.7 686.3 1522 680C1523.7 672.2 1525.3 663.8 1527 661.6C1528.7 659.4 1530.3 663.5 1532 676C1533.3 686 1534.7 701.5 1536 716C1537.3 730.5 1538.7 744.1 1540 760C1541.3 775.9 1542.7 794.2 1544 812C1545.3 829.8 1546.7 847.1 1548 860C1550 879.4 1552 888.8 1554 900C1556 911.2 1558 924 1560 940C1561.7 953.3 1563.3 968.8 1565 980C1567 993.4 1569 1000.6 1571 1008C1573.3 1016.7 1575.7 1025.8 1578 1032C1580.7 1039.1 1583.3 1042.5 1586 1052C1588 1059.1 1590 1069.7 1592 1082C1594 1094.3 1596 1108.2 1598 1122C1600 1135.8 1602 1149.6 1604 1162C1606 1174.4 1608 1185.6 1610 1192C1612 1198.4 1614 1200.2 1616 1201.5C1617.7 1202.6 1619.3 1203.4 1621 1203C1623 1202.5 1625 1200.2 1627 1200C1629 1199.8 1631 1201.7 1633 1204C1635.3 1206.6 1637.7 1209.8 1640 1212C1642.3 1214.2 1644.7 1215.6 1647 1216.5C1650 1217.6 1653 1217.9 1656 1218C1659.6 1218.2 1663.1 1218.1 1666.7 1218.2C1670.2 1218.2 1673.8 1218.2 1677.3 1218.3C1680.9 1218.3 1684.4 1218.3 1688 1218.4C1691.6 1218.4 1695.1 1218.4 1698.7 1218.4C1702.2 1218.4 1705.8 1218.4 1709.3 1218.4C1712.9 1218.5 1716.4 1218.5 1720 1218.5C1723.6 1218.5 1727.2 1218.5 1730.8 1218.6C1734.3 1218.6 1737.9 1218.6 1741.5 1218.6C1745.1 1218.7 1748.7 1218.7 1752.2 1218.7C1755.8 1218.7 1759.4 1218.8 1763 1218.8C1766.6 1218.8 1770.2 1218.8 1773.8 1218.8C1777.3 1218.9 1780.9 1218.9 1784.5 1218.9C1788.1 1218.9 1791.7 1218.9 1795.2 1218.9C1798.8 1219 1802.4 1219 1806 1219"/>
<path class="cv" stroke="#ea3323" d="M258 1219C264 1219 270 1219.1 276 1217C282.7 1214.7 289.3 1209.7 296 1208C302.7 1206.3 309.3 1207.9 316 1205C322 1202.4 328 1196.2 334 1192C340.7 1187.3 347.3 1185 354 1181C356.7 1179.4 359.3 1177.5 362 1175.5C364.7 1173.5 367.3 1171.3 370 1169.2C372.7 1167 375.3 1164.8 378 1162C385.3 1154.4 392.7 1142.7 400 1136C405.3 1131.1 410.7 1128.9 416 1125C420.7 1121.6 425.3 1116.8 430 1110C434 1104.2 438 1096.8 442 1088C446 1079.2 450 1069.1 454 1058C457.3 1048.8 460.7 1039 464 1030C467.3 1021 470.7 1013 474 1006C478 997.6 482 990.8 486 984C489.3 978.3 492.7 972.5 496 966C499.3 959.5 502.7 952.1 506 948C508.7 944.7 511.3 943.5 514 943C516.7 942.5 519.3 942.8 522 941C524.7 939.2 527.3 935.5 530 930C533.3 923.2 536.7 913.6 540 906C543.3 898.4 546.7 892.7 550 888C553.3 883.3 556.7 879.8 560 876C562.3 873.4 564.7 870.6 567 869C569 867.6 571 867 573 867.5C575 868 577 869.5 579 873C580.7 876 582.3 880.3 584 886C585.3 890.5 586.7 895.9 588 900C590 906.1 592 909.3 594 912C596.7 915.6 599.3 918.4 602 920C606.7 922.9 611.3 922.4 616 924C620.7 925.6 625.3 929.3 630 932C634 934.3 638 935.8 642 936C645.3 936.1 648.7 935.3 652 936C655.3 936.7 658.7 938.9 662 942C665.3 945.1 668.7 949.2 672 954C674.7 957.8 677.3 962.1 680 972C682 979.4 684 990 686 1000C688 1010 690 1019.5 692 1026C694 1032.5 696 1035.9 698 1038C700.7 1040.7 703.3 1041 706 1040C710 1038.5 714 1034.3 718 1032C722 1029.7 726 1029.5 730 1030C734 1030.5 738 1031.8 742 1034C746 1036.2 750 1039.2 754 1044C757.3 1048 760.7 1053.2 764 1058C767.3 1062.8 770.7 1067.2 774 1070C776.7 1072.2 779.3 1073.5 782 1073C784.7 1072.5 787.3 1070.4 790 1068C794 1064.4 798 1060.4 802 1059C805.3 1057.8 808.7 1058.5 812 1060C815.3 1061.5 818.7 1063.8 822 1063C825.3 1062.2 828.7 1058.3 832 1054C836 1048.8 840 1042.9 844 1038C848 1033.1 852 1029.1 856 1026C859.3 1023.4 862.7 1021.3 866 1021C868.7 1020.8 871.3 1021.6 874 1026C876.7 1030.4 879.3 1038.2 882 1044C884 1048.4 886 1051.6 888 1054C890 1056.4 892 1057.9 894 1058C896.7 1058.1 899.3 1055.7 902 1050C904.7 1044.3 907.3 1035.1 910 1026C912.7 1016.9 915.3 1007.7 918 1002C920.7 996.3 923.3 994.1 926 994C928.7 993.9 931.3 995.8 934 998C936.7 1000.2 939.3 1002.8 942 1002C945.3 1001 948.7 994.8 952 990C954.7 986.2 957.3 983.3 960 982C963.3 980.3 966.7 981.1 970 984C973.3 986.9 976.7 992.1 980 993C982 993.5 984 992.5 986 988C988 983.5 990 975.4 992 970C993.3 966.4 994.7 964.1 996 950C997.3 935.9 998.7 910.2 1000 890C1002.7 849.6 1005.3 831.2 1008 810C1010.7 788.8 1013.3 764.8 1016 750C1018.7 735.2 1021.3 729.7 1024 720C1026.7 710.3 1029.3 696.3 1032 690C1033.7 686.1 1035.3 685.1 1037 672C1038 664.1 1039 651.9 1040 644C1041.7 630.9 1043.3 630 1045 630C1046.7 630 1048.3 630.9 1050 640C1051.3 647.3 1052.7 659.9 1054 672C1056 690.1 1058 707 1060 720C1062 733 1064 742.1 1066 760C1068 777.9 1070 804.7 1072 830C1074 855.3 1076 879.2 1078 910C1080 940.8 1082 978.6 1084 1010C1086 1041.4 1088 1066.5 1090 1090C1092 1113.5 1094 1135.5 1096 1150C1098.7 1169.3 1101.3 1175.1 1104 1180C1106.7 1184.9 1109.3 1188.8 1112 1190C1114.7 1191.2 1117.3 1189.7 1120 1188C1124 1185.5 1128 1182.6 1132 1180C1136.3 1177.2 1140.7 1174.7 1145 1172C1148.7 1169.7 1152.3 1167.3 1156 1167C1158.7 1166.8 1161.3 1167.7 1164 1170C1167.3 1172.8 1170.7 1177.8 1174 1182C1177.3 1186.2 1180.7 1189.6 1184 1192C1187.3 1194.4 1190.7 1195.8 1194 1196C1197.3 1196.2 1200.7 1195.2 1204 1195C1208 1194.7 1212 1195.5 1216 1196C1220.7 1196.6 1225.3 1196.9 1230 1197C1234.7 1197.1 1239.3 1197.1 1244 1197C1248 1196.9 1252 1196.7 1256 1195C1259.3 1193.6 1262.7 1191.2 1266 1188C1269.3 1184.8 1272.7 1180.7 1276 1178C1280 1174.7 1284 1173.4 1288 1171.5C1291 1170.1 1294 1168.4 1297 1166C1299 1164.4 1301 1162.6 1303 1160C1305 1157.4 1307 1154.1 1309 1151.5C1311.3 1148.4 1313.7 1146.3 1316 1146C1318 1145.7 1320 1146.8 1322 1150C1324.7 1154.3 1327.3 1162.4 1330 1170C1332.7 1177.6 1335.3 1184.5 1338 1190C1340.7 1195.5 1343.3 1199.5 1346 1202C1350.7 1206.4 1355.3 1206.5 1360 1207C1366.7 1207.7 1373.3 1209.5 1380 1210C1386.7 1210.5 1393.3 1209.7 1400 1210C1406.7 1210.3 1413.3 1211.6 1420 1212C1426.7 1212.4 1433.3 1211.9 1440 1212C1442.8 1212 1445.6 1212.2 1448.3 1212.4C1451.1 1212.6 1453.9 1212.9 1456.7 1213.2C1459.4 1213.5 1462.2 1213.8 1465 1214C1467.9 1214.2 1470.8 1214.4 1473.8 1214.6C1476.7 1214.8 1479.6 1214.9 1482.5 1215.1C1485.4 1215.3 1488.3 1215.4 1491.2 1215.6C1494.2 1215.7 1497.1 1215.9 1500 1216C1503.3 1216.2 1506.7 1216.3 1510 1216.4C1513.3 1216.6 1516.7 1216.8 1520 1216.9C1523.3 1217.1 1526.7 1217.2 1530 1217.3C1533.3 1217.5 1536.7 1217.6 1540 1217.7C1543.3 1217.8 1546.7 1217.9 1550 1217.9C1553.3 1218 1556.7 1218 1560 1218C1563.3 1218 1566.7 1218 1570 1218C1573.3 1218 1576.7 1218 1580 1218C1583.3 1218 1586.7 1218 1590 1218C1593.3 1218 1596.7 1218 1600 1218C1603.3 1218 1606.7 1218 1610 1218C1613.3 1218 1616.7 1218 1620 1218C1623.3 1218 1626.7 1218 1630 1218C1633.3 1218 1636.7 1218 1640 1218C1643.3 1218 1646.7 1218 1650 1218C1653.3 1218 1656.7 1218 1660 1218C1663.3 1218 1666.7 1218.1 1670 1218.1C1673.3 1218.1 1676.7 1218.1 1680 1218.1C1683.3 1218.2 1686.7 1218.2 1690 1218.2C1693.3 1218.3 1696.7 1218.3 1700 1218.3C1703.3 1218.4 1706.7 1218.4 1710 1218.4C1713.3 1218.5 1716.7 1218.5 1720 1218.5C1723.6 1218.5 1727.2 1218.5 1730.8 1218.6C1734.3 1218.6 1737.9 1218.6 1741.5 1218.6C1745.1 1218.7 1748.7 1218.7 1752.2 1218.7C1755.8 1218.7 1759.4 1218.7 1763 1218.8C1766.6 1218.8 1770.2 1218.8 1773.8 1218.8C1777.3 1218.8 1780.9 1218.9 1784.5 1218.9C1788.1 1218.9 1791.7 1218.9 1795.2 1218.9C1798.8 1219 1802.4 1219 1806 1219"/>
<path class="cv ds" stroke="#0b24f5" stroke-dashoffset="12.7" d="M258 1219.5C261.2 1219.2 264.3 1219 267.5 1218.7C270.7 1218.4 273.8 1218.2 277 1217.9C280.2 1217.6 283.3 1217.3 286.5 1217C289.7 1216.6 292.8 1216.3 296 1216C299.5 1215.6 303 1215.3 306.5 1214.9C310 1214.5 313.5 1214.2 317 1213.7C320.5 1213.3 324 1212.9 327.5 1212.5C331 1212 334.5 1211.5 338 1211C341.5 1210.5 344.9 1209.9 348.4 1209.3C351.9 1208.6 355.3 1207.9 358.8 1207.2C362.3 1206.5 365.7 1205.7 369.2 1204.9C372.7 1204.1 376.1 1203.3 379.6 1202.5C383.1 1201.7 386.5 1200.8 390 1200C393.3 1199.2 396.7 1198.4 400 1197.6C403.3 1196.7 406.7 1195.9 410 1195C413.3 1194.1 416.7 1193.1 420 1192.1C423.3 1191.2 426.7 1190.2 430 1189C436.7 1186.6 443.3 1183.4 450 1181C456.7 1178.6 463.3 1177.1 470 1174C476.7 1170.9 483.3 1166.2 490 1162C496.7 1157.8 503.3 1154 510 1150C516.7 1146 523.3 1141.8 530 1138C535.3 1135 540.7 1132.2 546 1128C551.3 1123.8 556.7 1118 562 1114C567.3 1110 572.7 1107.8 578 1104C582 1101.1 586 1097.4 590 1094C596.7 1088.4 603.3 1084 610 1078C614 1074.4 618 1070.2 622 1068C628 1064.6 634 1065.6 640 1066C646.7 1066.5 653.3 1066.4 660 1064C666.7 1061.6 673.3 1057 680 1056C686.7 1055 693.3 1057.8 700 1056C705.3 1054.6 710.7 1050.2 716 1046C720.7 1042.3 725.3 1038.7 730 1038C735.3 1037.2 740.7 1040.1 746 1042C751.3 1043.9 756.7 1044.8 762 1046C768 1047.3 774 1049 780 1048C784 1047.3 788 1045.5 792 1046C795.3 1046.4 798.7 1048.5 802 1054C804.7 1058.4 807.3 1065 810 1070C813.3 1076.3 816.7 1080.1 820 1082C824 1084.3 828 1083.9 832 1084C836 1084.1 840 1084.7 844 1088C847.3 1090.7 850.7 1095.4 854 1100C857.3 1104.6 860.7 1109.3 864 1114C866.7 1117.8 869.3 1121.6 872 1124C875.3 1127 878.7 1127.8 882 1128C886.7 1128.2 891.3 1127.1 896 1126C900 1125 904 1124 908 1122C912 1120 916 1117 920 1116C924.7 1114.8 929.3 1116.2 934 1116C937.3 1115.8 940.7 1114.8 944 1113C946.7 1111.5 949.3 1109.5 952 1110C955.3 1110.6 958.7 1115.1 962 1118C966 1121.4 970 1122.5 974 1124C978 1125.5 982 1127.3 986 1128C990.7 1128.8 995.3 1128 1000 1126C1004 1124.3 1008 1121.8 1012 1124C1014.7 1125.5 1017.3 1129.1 1020 1132C1023.3 1135.7 1026.7 1138.3 1030 1140C1033.3 1141.7 1036.7 1142.5 1040 1142C1043.3 1141.5 1046.7 1139.8 1050 1138C1053.3 1136.2 1056.7 1134.5 1060 1133C1062.7 1131.8 1065.3 1130.8 1068 1132C1070.7 1133.2 1073.3 1136.6 1076 1140C1078.7 1143.4 1081.3 1146.9 1084 1148C1086.7 1149.1 1089.3 1147.7 1092 1144C1094.7 1140.3 1097.3 1134.4 1100 1130C1102.7 1125.6 1105.3 1122.9 1108 1118C1110.7 1113.1 1113.3 1106.1 1116 1102C1119.3 1096.9 1122.7 1096.3 1126 1096C1130 1095.7 1134 1095.8 1138 1092C1140.7 1089.5 1143.3 1085.3 1146 1078C1148 1072.5 1150 1065.3 1152 1060C1154 1054.7 1156 1051.1 1158 1050C1160 1048.9 1162 1050.1 1164 1054C1166 1057.9 1168 1064.5 1170 1074C1172 1083.5 1174 1095.8 1176 1106C1178 1116.2 1180 1124.2 1182 1130C1184 1135.8 1186 1139.5 1188 1140C1190 1140.5 1192 1137.8 1194 1130C1196 1122.2 1198 1109.3 1200 1100C1202 1090.7 1204 1085.1 1206 1082C1208 1078.9 1210 1078.5 1212 1080C1214 1081.5 1216 1085.1 1218 1088C1220 1090.9 1222 1093.1 1224 1093C1226.7 1092.9 1229.3 1088.7 1232 1086C1234.7 1083.3 1237.3 1081.9 1240 1080C1242 1078.5 1244 1076.7 1246 1072C1248 1067.3 1250 1059.6 1252 1050C1254 1040.4 1256 1028.9 1258 1020C1260.7 1008.1 1263.3 1000.9 1266 994C1269.3 985.3 1272.7 977 1276 970C1278.7 964.4 1281.3 959.6 1284 956C1286 953.3 1288 951.2 1290 948C1292.7 943.7 1295.3 937.3 1298 928C1300 921.1 1302 912.5 1304 904C1305.7 896.9 1307.3 889.8 1309 884C1310.7 878.2 1312.3 873.7 1314 873C1315.7 872.3 1317.3 875.3 1319 880C1320.7 884.7 1322.3 891.1 1324 900C1326 910.6 1328 924.8 1330 936C1332.7 951 1335.3 960.7 1338 970C1340.7 979.3 1343.3 988 1346 996C1348.7 1004 1351.3 1011.3 1354 1020C1356 1026.5 1358 1033.9 1360 1040C1362 1046.1 1364 1050.9 1366 1060C1367.3 1066 1368.7 1073.9 1370 1080C1372 1089.1 1374 1094 1376 1098C1378 1102 1380 1105 1382 1108C1383.3 1110 1384.7 1112 1386 1113C1389.3 1115.6 1392.7 1112.5 1396 1110C1400 1107 1404 1104.9 1408 1100C1410 1097.6 1412 1094.4 1414 1088C1415.3 1083.7 1416.7 1077.9 1418 1070C1419.3 1062.1 1420.7 1051.9 1422 1040C1423.3 1028.1 1424.7 1014.4 1426 1004C1427.3 993.6 1428.7 986.5 1430 980C1432 970.3 1434 961.9 1436 954C1438 946.1 1440 938.7 1442 934C1444 929.3 1446 927.3 1448 926C1450.7 924.3 1453.3 923.8 1456 925C1458.7 926.2 1461.3 929.1 1464 932C1466.7 934.9 1469.3 937.7 1472 937C1474.7 936.3 1477.3 932.1 1480 926C1482.7 919.9 1485.3 911.8 1488 902C1490.7 892.2 1493.3 880.8 1496 870C1498.7 859.2 1501.3 849.1 1504 838C1506 829.7 1508 820.8 1510 812C1512 803.2 1514 794.3 1516 786C1517.3 780.5 1518.7 775.1 1520 770C1521.7 763.6 1523.3 757.5 1525 755.5C1526.7 753.5 1528.3 755.7 1530 760C1531.7 764.3 1533.3 770.7 1535 778C1536.3 783.8 1537.7 790.2 1539 796C1540.7 803.2 1542.3 809.4 1544 816C1546.7 826.6 1549.3 838.1 1552 850C1554 858.9 1556 868 1558 890C1559.3 904.7 1560.7 925 1562 940C1563.3 955 1564.7 964.6 1566 974C1567.7 985.8 1569.3 997.3 1571 1006C1573.3 1018.2 1575.7 1024.8 1578 1030C1580.7 1036 1583.3 1040.2 1586 1050C1588 1057.3 1590 1067.8 1592 1080C1594 1092.2 1596 1106.1 1598 1120C1600 1133.9 1602 1147.8 1604 1160C1606 1172.2 1608 1182.7 1610 1189C1612 1195.3 1614 1197.5 1616 1198.5C1617.5 1199.3 1619 1199.4 1620.5 1198.8C1622.5 1198.1 1624.5 1196.1 1626.5 1196.3C1628.7 1196.5 1630.8 1199.1 1633 1202C1635.3 1205.1 1637.7 1208.5 1640 1211C1642 1213.1 1644 1214.5 1646 1215.5C1648.7 1216.8 1651.3 1217.3 1654 1217.5C1657.1 1217.8 1660.1 1217.8 1663.2 1217.8C1666.3 1217.8 1669.3 1217.9 1672.4 1218C1675.5 1218.1 1678.5 1218.1 1681.6 1218.1C1684.7 1218.1 1687.7 1218.2 1690.8 1218.2C1693.9 1218.2 1696.9 1218.3 1700 1218.3C1706.7 1218.4 1713.3 1218.4 1720 1218.5C1723.6 1218.5 1727.2 1218.6 1730.8 1218.6C1734.3 1218.6 1737.9 1218.6 1741.5 1218.7C1745.1 1218.7 1748.7 1218.7 1752.2 1218.7C1755.8 1218.8 1759.4 1218.8 1763 1218.8C1766.6 1218.8 1770.2 1218.9 1773.8 1218.9C1777.3 1218.9 1780.9 1218.9 1784.5 1218.9C1788.1 1218.9 1791.7 1219 1795.2 1219C1798.8 1219 1802.4 1219 1806 1219"/>
<path class="cv" stroke="#0b24f5" d="M258 1219C264 1219 270 1219 276 1216C282 1213 288 1207.1 294 1205C300 1202.9 306 1204.5 312 1203C318.7 1201.4 325.3 1195.9 332 1190C338 1184.7 344 1179.1 350 1177C354 1175.6 358 1175.7 362 1174C367.3 1171.7 372.7 1166.2 378 1160C384 1153.1 390 1145.4 396 1140C402.7 1134 409.3 1131 416 1128C421.3 1125.6 426.7 1123.2 432 1114C436 1107.1 440 1096.3 444 1092C446 1089.9 448 1089.4 450 1086C454 1079.2 458 1060.9 462 1044C466 1027.1 470 1011.6 474 1000C477.3 990.4 480.7 983.4 484 978C488 971.5 492 967.1 496 960C499.3 954.1 502.7 946.3 506 942C508 939.4 510 938.2 512 938C514.7 937.8 517.3 939.4 520 939C523.3 938.5 526.7 934.7 530 928C533.3 921.3 536.7 911.8 540 904C543.3 896.2 546.7 890.3 550 886C553.3 881.7 556.7 879 560 877C562.7 875.4 565.3 874.3 568 876C570.7 877.7 573.3 882.4 576 886C580 891.4 584 894.5 588 898C591.3 900.9 594.7 904.1 598 905C600.7 905.8 603.3 905.1 606 904C608.7 902.9 611.3 901.3 614 902C616.7 902.7 619.3 905.6 622 908C626 911.6 630 914 634 920C636.7 924 639.3 929.5 642 934C644.7 938.5 647.3 941.9 650 944C653.3 946.6 656.7 947.1 660 950C663.3 952.9 666.7 958.4 670 964C673.3 969.6 676.7 975.5 680 982C683.3 988.5 686.7 995.6 690 1002C692.7 1007.1 695.3 1011.7 698 1014C701.3 1016.9 704.7 1016.1 708 1015C711.3 1013.9 714.7 1012.4 718 1013C720.7 1013.5 723.3 1015.4 726 1018C728.7 1020.6 731.3 1024.1 734 1028C736.7 1031.9 739.3 1036.4 742 1040C745.3 1044.5 748.7 1047.9 752 1050C756 1052.6 760 1053.5 764 1056C766.7 1057.7 769.3 1060 772 1062C774.7 1064 777.3 1065.5 780 1066C783.3 1066.6 786.7 1065.7 790 1064C793.3 1062.3 796.7 1060 800 1060C803.3 1060 806.7 1062.5 810 1064C813.3 1065.5 816.7 1066.1 820 1066C823.3 1065.9 826.7 1065 830 1062C833.3 1059 836.7 1053.9 840 1050C843.3 1046.1 846.7 1043.3 850 1042C854.7 1040.2 859.3 1041.3 864 1040C868 1038.9 872 1036.1 876 1034C880 1031.9 884 1030.6 888 1030C892 1029.4 896 1029.4 900 1028C904 1026.6 908 1023.9 912 1022C916 1020.1 920 1019.2 924 1018C927.3 1017 930.7 1015.8 934 1012C936.7 1009 939.3 1004.3 942 998C944 993.3 946 987.7 948 984C950.7 979 953.3 977.4 956 976C960 973.9 964 972.2 968 970C972 967.8 976 965.1 980 962C982.7 960 985.3 957.7 988 954C990.7 950.3 993.3 945 996 934C998.7 923 1001.3 906.4 1004 890C1006 877.7 1008 865.4 1010 850C1012 834.6 1014 815.9 1016 800C1018 784.1 1020 770.8 1022 760C1024.7 745.6 1027.3 735.4 1030 726C1032.7 716.6 1035.3 708 1038 700C1040 694 1042 688.4 1044 685C1045.7 682.1 1047.3 680.8 1049 683C1050 684.3 1051 686.9 1052 696C1053.3 708.1 1054.7 731.7 1056 750C1058.7 786.6 1061.3 802 1064 830C1066.7 858 1069.3 898.8 1072 930C1073 941.7 1074 952.1 1075 962C1076.7 978.5 1078.3 993.6 1080 1010C1082 1029.6 1084 1051 1086 1070C1088 1089 1090 1105.6 1092 1120C1094 1134.4 1096 1146.4 1098 1154C1100.7 1164.1 1103.3 1166.3 1106 1168C1109.3 1170.2 1112.7 1171.7 1116 1173C1119.3 1174.3 1122.7 1175.3 1126 1177C1130 1179.1 1134 1182.2 1138 1182C1141.3 1181.8 1144.7 1179.4 1148 1177C1151.3 1174.6 1154.7 1172.4 1158 1172C1160.7 1171.7 1163.3 1172.6 1166 1175C1169.3 1178 1172.7 1183.1 1176 1188C1178.7 1191.9 1181.3 1195.5 1184 1198C1186 1199.8 1188 1201 1190 1201C1193.3 1201 1196.7 1197.6 1200 1195C1203.3 1192.4 1206.7 1190.5 1210 1190C1214.7 1189.4 1219.3 1191.6 1224 1193C1229.3 1194.6 1234.7 1195.2 1240 1193C1243.3 1191.6 1246.7 1189.2 1250 1186C1253.3 1182.8 1256.7 1178.8 1260 1176C1263.3 1173.2 1266.7 1171.5 1270 1170C1274.7 1167.8 1279.3 1165.9 1284 1164C1288 1162.4 1292 1160.8 1296 1158C1300 1155.2 1304 1151.1 1308 1148C1310.7 1145.9 1313.3 1144.2 1316 1144C1318.7 1143.8 1321.3 1145 1324 1148C1326.7 1151 1329.3 1155.6 1332 1160C1335.3 1165.5 1338.7 1170.5 1342 1176C1345.3 1181.5 1348.7 1187.4 1352 1192C1355.3 1196.6 1358.7 1199.7 1362 1202C1366.7 1205.2 1371.3 1206.8 1376 1208C1381.3 1209.4 1386.7 1210.3 1392 1211C1398.7 1211.9 1405.3 1212.6 1412 1212C1418 1211.5 1424 1209.9 1430 1209C1434.7 1208.3 1439.3 1207.9 1444 1208C1448 1208.1 1452 1208.6 1456 1209C1459 1209.3 1462 1209.6 1465 1210C1470 1210.6 1475 1211.4 1480 1212C1483.3 1212.4 1486.7 1212.7 1490 1212.9C1493.3 1213.2 1496.7 1213.5 1500 1213.7C1503.3 1213.9 1506.7 1214.2 1510 1214.4C1513.3 1214.6 1516.7 1214.8 1520 1215C1523.3 1215.2 1526.7 1215.4 1530 1215.6C1533.3 1215.8 1536.7 1216 1540 1216.1C1543.3 1216.3 1546.7 1216.5 1550 1216.6C1553.3 1216.8 1556.7 1216.9 1560 1217C1563.3 1217.1 1566.7 1217.2 1570 1217.3C1573.3 1217.4 1576.7 1217.5 1580 1217.6C1583.3 1217.7 1586.7 1217.8 1590 1217.9C1593.3 1217.9 1596.7 1218 1600 1218C1603.6 1218 1607.3 1218.1 1610.9 1218.1C1614.5 1218.1 1618.2 1218.1 1621.8 1218.1C1625.5 1218.2 1629.1 1218.2 1632.7 1218.2C1636.4 1218.2 1640 1218.2 1643.6 1218.2C1647.3 1218.3 1650.9 1218.3 1654.5 1218.3C1658.2 1218.3 1661.8 1218.3 1665.5 1218.3C1669.1 1218.3 1672.7 1218.3 1676.4 1218.3C1680 1218.4 1683.6 1218.4 1687.3 1218.4C1690.9 1218.4 1694.5 1218.4 1698.2 1218.4C1701.8 1218.4 1705.5 1218.4 1709.1 1218.5C1712.7 1218.5 1716.4 1218.5 1720 1218.5C1723.6 1218.5 1727.2 1218.5 1730.8 1218.6C1734.3 1218.6 1737.9 1218.6 1741.5 1218.6C1745.1 1218.6 1748.7 1218.7 1752.2 1218.7C1755.8 1218.7 1759.4 1218.7 1763 1218.7C1766.6 1218.8 1770.2 1218.8 1773.8 1218.8C1777.3 1218.8 1780.9 1218.8 1784.5 1218.9C1788.1 1218.9 1791.7 1218.9 1795.2 1218.9C1798.8 1219 1802.4 1219 1806 1219"/>
<path class="cv ds" stroke="#76923c" stroke-dashoffset="15.3" d="M258 1219.5C261.2 1219.2 264.3 1219 267.5 1218.7C270.7 1218.4 273.8 1218.2 277 1217.9C280.2 1217.6 283.3 1217.3 286.5 1217C289.7 1216.6 292.8 1216.3 296 1216C299.5 1215.6 303 1215.3 306.5 1214.9C310 1214.5 313.5 1214.1 317 1213.7C320.5 1213.3 324 1212.9 327.5 1212.4C331 1212 334.5 1211.5 338 1211C341.5 1210.5 344.9 1209.9 348.4 1209.4C351.9 1208.8 355.3 1208.2 358.8 1207.5C362.3 1206.9 365.7 1206.2 369.2 1205.5C372.7 1204.8 376.1 1204.1 379.6 1203.3C383.1 1202.6 386.5 1201.8 390 1201C393.3 1200.2 396.7 1199.4 400 1198.6C403.3 1197.8 406.7 1196.9 410 1196C413.3 1195.1 416.7 1194.1 420 1193.2C423.3 1192.2 426.7 1191.2 430 1190C436.7 1187.6 443.3 1184.3 450 1182C456.7 1179.7 463.3 1178.5 470 1176C476.7 1173.5 483.3 1169.6 490 1166C496.7 1162.4 503.3 1159.2 510 1156C516.7 1152.8 523.3 1149.5 530 1146C536.7 1142.5 543.3 1138.7 550 1132C554 1128 558 1123 562 1118C567.3 1111.4 572.7 1105 578 1098C583.3 1091 588.7 1083.6 594 1074C597.3 1068 600.7 1061.2 604 1056C606 1052.9 608 1050.4 610 1049C614 1046.2 618 1047.8 622 1048C628 1048.3 634 1045.2 640 1042C646.7 1038.4 653.3 1034.6 660 1032C664.7 1030.2 669.3 1029 674 1028C676.9 1027.4 679.8 1026.8 682.7 1026.3C685.6 1025.8 688.4 1025.3 691.3 1024.9C694.2 1024.6 697.1 1024.3 700 1024C706 1023.5 712 1023.1 718 1023C721.6 1023 725.1 1023.1 728.7 1023.2C732.2 1023.3 735.8 1023.4 739.3 1023.6C742.9 1023.7 746.4 1023.8 750 1024C752.7 1024.1 755.3 1024.2 758 1024.4C760.7 1024.5 763.3 1024.7 766 1024.8C768.7 1024.9 771.3 1025.1 774 1025C776.9 1024.9 779.8 1024.6 782.7 1024.2C785.6 1023.8 788.4 1023.3 791.3 1022.8C794.2 1022.2 797.1 1021.6 800 1022C806.7 1023 813.3 1029.6 820 1036C825.3 1041.1 830.7 1046.1 836 1052C840.7 1057.1 845.3 1062.9 850 1068C854.7 1073.1 859.3 1077.4 864 1080C869.3 1082.9 874.7 1083.5 880 1086C885.3 1088.5 890.7 1093 896 1092C900 1091.3 904 1087.5 908 1090C910.7 1091.7 913.3 1096.1 916 1102C918.7 1107.9 921.3 1115.4 924 1122C927.3 1130.3 930.7 1137.4 934 1144C937.3 1150.6 940.7 1156.8 944 1162C947.3 1167.2 950.7 1171.3 954 1174C958.7 1177.8 963.3 1178.7 968 1177C972 1175.6 976 1172.2 980 1170C986.7 1166.3 993.3 1165.5 1000 1165C1006.7 1164.5 1013.3 1164.2 1020 1161C1024.7 1158.8 1029.3 1155.1 1034 1152C1039.3 1148.5 1044.7 1145.7 1050 1144C1056.7 1141.9 1063.3 1141.7 1070 1138C1074.7 1135.4 1079.3 1131.2 1084 1128C1089.3 1124.4 1094.7 1122.1 1100 1118C1103.3 1115.5 1106.7 1112.2 1110 1110C1113.3 1107.8 1116.7 1106.6 1120 1104C1124.7 1100.4 1129.3 1093.9 1134 1086C1138 1079.2 1142 1071.3 1146 1064C1148.7 1059.1 1151.3 1054.5 1154 1052C1156 1050.1 1158 1049.5 1160 1052C1162 1054.5 1164 1060.1 1166 1066C1168.7 1073.9 1171.3 1082.4 1174 1090C1177.3 1099.5 1180.7 1107.5 1184 1114C1187.3 1120.5 1190.7 1125.4 1194 1130C1197.3 1134.6 1200.7 1138.9 1204 1142C1208 1145.7 1212 1147.7 1216 1150C1220.7 1152.7 1225.3 1155.8 1230 1158C1234 1159.9 1238 1161 1242 1161C1246 1161 1250 1159.9 1254 1157C1257.3 1154.6 1260.7 1150.9 1264 1143C1266 1138.3 1268 1132.1 1270 1128C1272.7 1122.6 1275.3 1120.9 1278 1120C1282.7 1118.4 1287.3 1118.9 1292 1116C1296 1113.5 1300 1108.5 1304 1105C1309.3 1100.4 1314.7 1098.5 1320 1096C1325.3 1093.5 1330.7 1090.5 1336 1089C1339.3 1088.1 1342.7 1087.7 1346 1088C1350.7 1088.4 1355.3 1089.9 1360 1092C1364 1093.8 1368 1096.1 1372 1097C1374.7 1097.6 1377.3 1097.5 1380 1096C1382.7 1094.5 1385.3 1091.6 1388 1086C1390 1081.8 1392 1076.1 1394 1070C1396 1063.9 1398 1057.4 1400 1054C1402 1050.6 1404 1050.3 1406 1052C1408 1053.7 1410 1057.3 1412 1062C1414 1066.7 1416 1072.4 1418 1078C1420.7 1085.5 1423.3 1092.9 1426 1098C1429.3 1104.4 1432.7 1107.3 1436 1110C1439.3 1112.7 1442.7 1115.2 1446 1116C1449.3 1116.8 1452.7 1115.8 1456 1116C1459 1116.2 1462 1117.4 1465 1114C1466.7 1112.1 1468.3 1108.7 1470 1106C1474 1099.4 1478 1096.4 1482 1090C1484.7 1085.7 1487.3 1080 1490 1070C1492 1062.5 1494 1052.6 1496 1040C1497.3 1031.6 1498.7 1021.9 1500 1010C1501.3 998.1 1502.7 984 1504 975C1505.3 966 1506.7 962.2 1508 950C1509.3 937.8 1510.7 917.3 1512 900C1513.7 878.4 1515.3 861.9 1517 840C1518.3 822.5 1519.7 801.6 1521 780C1522 763.8 1523 747.2 1524 730C1525 712.8 1526 695 1527 680C1528 665 1529 653 1530 640C1532 614 1534 584.4 1536 560C1538 535.6 1540 516.5 1542 500C1544 483.5 1546 469.5 1548 460C1549.9 451.2 1551.7 446.2 1553.6 446C1555.4 445.8 1557.2 449.9 1559 464C1560.3 474.5 1561.7 490.4 1563 510C1564 524.7 1565 541.4 1566 560C1567 578.6 1568 599.2 1569 620C1570 640.8 1571 661.9 1572 680C1573.3 704.1 1574.7 722.8 1576 740C1578 765.9 1580 788.5 1582 810C1584 831.5 1586 851.9 1588 870C1590.7 894.2 1593.3 914.4 1596 930C1597.3 937.8 1598.7 944.5 1600 950C1602.7 961 1605.3 967.4 1608 980C1610 989.4 1612 1002.4 1614 1014C1616 1025.6 1618 1036 1620 1050C1621.7 1061.7 1623.3 1075.9 1625 1090C1626.7 1104.1 1628.3 1118.1 1630 1130C1632 1144.3 1634 1155.7 1636 1166C1638 1176.3 1640 1185.4 1642 1192C1644.7 1200.8 1647.3 1205 1650 1208C1653.3 1211.8 1656.7 1213.7 1660 1215C1666.7 1217.6 1673.3 1217.8 1680 1218C1683.3 1218.1 1686.7 1218.2 1690 1218.2C1693.3 1218.3 1696.7 1218.3 1700 1218.3C1703.3 1218.4 1706.7 1218.4 1710 1218.4C1713.3 1218.4 1716.7 1218.5 1720 1218.5C1723.6 1218.5 1727.2 1218.6 1730.8 1218.6C1734.3 1218.6 1737.9 1218.6 1741.5 1218.7C1745.1 1218.7 1748.7 1218.7 1752.2 1218.8C1755.8 1218.8 1759.4 1218.8 1763 1218.8C1766.6 1218.8 1770.2 1218.9 1773.8 1218.9C1777.3 1218.9 1780.9 1218.9 1784.5 1218.9C1788.1 1219 1791.7 1219 1795.2 1219C1798.8 1219 1802.4 1219 1806 1219"/>
<path class="cv" stroke="#76923c" d="M258 1219C264 1219.1 270 1219.3 276 1217C282.7 1214.5 289.3 1208.9 296 1207C302.7 1205.1 309.3 1206.8 316 1204C322 1201.5 328 1195.3 334 1191C340.7 1186.3 347.3 1184 354 1180C356.7 1178.4 359.3 1176.5 362 1174.6C364.7 1172.7 367.3 1170.7 370 1168.6C372.7 1166.5 375.3 1164.4 378 1162C380.7 1159.6 383.3 1157 386 1154.2C388.7 1151.4 391.3 1148.4 394 1145.6C396.7 1142.8 399.3 1140.1 402 1138C407.3 1133.8 412.7 1131.6 418 1127C422 1123.5 426 1118.6 430 1112C434 1105.4 438 1097.1 442 1088C446 1078.9 450 1069 454 1058C457.3 1048.8 460.7 1038.8 464 1030C467.3 1021.2 470.7 1013.6 474 1006C478 996.9 482 987.8 486 980C490 972.2 494 965.6 498 962C503.3 957.3 508.7 957.9 514 957C517.3 956.4 520.7 955.2 524 950C526.7 945.8 529.3 939.1 532 932C534.7 924.9 537.3 917.3 540 914C542 911.5 544 911.4 546 912C550 913.1 554 917 558 918C563.3 919.4 568.7 915.9 574 915C579.3 914.1 584.7 916 590 916C594 916 598 915 602 918C604.7 920 607.3 923.7 610 928C613.3 933.4 616.7 939.7 620 944C623.3 948.3 626.7 950.7 630 952C633.3 953.3 636.7 953.4 640 958C642.7 961.7 645.3 968.2 648 976C650.7 983.8 653.3 993 656 1000C659.3 1008.8 662.7 1014.1 666 1018C669.3 1021.9 672.7 1024.2 676 1026C680.7 1028.5 685.3 1030.1 690 1032C694 1033.6 698 1035.5 702 1042C704.7 1046.3 707.3 1052.7 710 1060C713.3 1069.2 716.7 1079.9 720 1088C723.3 1096.1 726.7 1101.6 730 1102C733.3 1102.4 736.7 1097.5 740 1094C744.7 1089.1 749.3 1086.6 754 1082C758 1078 762 1072.5 766 1064C770.7 1054.1 775.3 1040.3 780 1030C785.3 1018.2 790.7 1011.1 796 1000C800 991.7 804 981.2 808 974C810.7 969.2 813.3 965.8 816 966C818 966.1 820 968.3 822 976C824 983.7 826 997 828 1010C830 1023 832 1035.8 834 1046C836 1056.2 838 1063.9 840 1068C841.7 1071.4 843.3 1072.4 845 1072C847.3 1071.4 849.7 1068 852 1062C854.7 1055.1 857.3 1044.8 860 1038C863.3 1029.6 866.7 1026.7 870 1024C874 1020.7 878 1017.6 882 1018C885.3 1018.3 888.7 1021.2 892 1024C896 1027.4 900 1030.8 904 1033C908 1035.2 912 1036.1 916 1036C920.7 1035.9 925.3 1034.5 930 1032C933.3 1030.2 936.7 1027.8 940 1024C943.3 1020.2 946.7 1014.8 950 1012C953.3 1009.2 956.7 1008.8 960 1004C962 1001.1 964 996.6 966 990C968 983.4 970 974.6 972 966C973.3 960.3 974.7 954.6 976 945C978 930.7 980 907.6 982 890C985.3 860.6 988.7 846.3 992 820C994 804.2 996 784.2 998 760C999.3 743.9 1000.7 726 1002 710C1003 698 1004 687.2 1005 672C1006.7 646.7 1008.3 609.4 1010 580C1012 544.8 1014 521 1016 500C1018 479 1020 460.7 1022 446C1024 431.3 1026 420.1 1028 412C1029.7 405.2 1031.3 400.6 1033 398C1033.9 396.6 1034.7 395.8 1035.6 395.6C1036.7 395.3 1037.9 396.2 1039 399C1040.3 402.3 1041.7 408.3 1043 420C1044.3 431.7 1045.7 449.1 1047 470C1048.3 490.9 1049.7 515.3 1051 540C1052 558.5 1053 577.1 1054 600C1055 622.9 1056 650 1057 672C1058 694 1059 710.8 1060 730C1061.3 755.7 1062.7 785.7 1064 810C1066 846.5 1068 870 1070 890C1072.7 916.6 1075.3 936.8 1078 955C1080 968.6 1082 981.2 1084 995C1086 1008.8 1088 1024 1090 1040C1092 1056 1094 1072.7 1096 1090C1098 1107.3 1100 1125.1 1102 1140C1104 1154.9 1106 1166.8 1108 1176C1110.7 1188.3 1113.3 1195.8 1116 1201C1118.7 1206.2 1121.3 1209 1124 1211C1126.7 1213 1129.3 1214.2 1132 1215C1135.3 1216 1138.7 1216.2 1142 1216.5C1145.3 1216.8 1148.7 1217.1 1152 1217.3C1156.7 1217.6 1161.3 1217.9 1166 1218C1168.8 1218.1 1171.7 1218.1 1174.5 1218.1C1177.3 1218.1 1180.2 1218.1 1183 1218.1C1185.8 1218.1 1188.7 1218.2 1191.5 1218.2C1194.3 1218.2 1197.2 1218.2 1200 1218.2C1203.3 1218.2 1206.7 1218.2 1210 1218.2C1213.3 1218.3 1216.7 1218.3 1220 1218.3C1223.3 1218.3 1226.7 1218.3 1230 1218.3C1233.3 1218.3 1236.7 1218.3 1240 1218.3C1243.3 1218.4 1246.7 1218.4 1250 1218.4C1253.3 1218.4 1256.7 1218.4 1260 1218.4C1263.3 1218.4 1266.7 1218.4 1270 1218.4C1273.3 1218.4 1276.7 1218.4 1280 1218.5C1283.3 1218.5 1286.7 1218.5 1290 1218.5C1293.3 1218.5 1296.7 1218.5 1300 1218.5C1303.3 1218.5 1306.7 1218.5 1310 1218.5C1313.3 1218.5 1316.7 1218.5 1320 1218.6C1323.3 1218.6 1326.7 1218.6 1330 1218.6C1333.3 1218.6 1336.7 1218.6 1340 1218.6C1343.3 1218.6 1346.7 1218.6 1350 1218.6C1353.3 1218.6 1356.7 1218.6 1360 1218.7C1363.3 1218.7 1366.7 1218.7 1370 1218.7C1373.3 1218.7 1376.7 1218.7 1380 1218.7C1383.3 1218.7 1386.7 1218.7 1390 1218.7C1393.3 1218.7 1396.7 1218.7 1400 1218.7C1403.5 1218.7 1407 1218.7 1410.5 1218.7C1414 1218.7 1417.5 1218.7 1421.1 1218.7C1424.6 1218.7 1428.1 1218.7 1431.6 1218.7C1435.1 1218.7 1438.6 1218.7 1442.1 1218.7C1445.6 1218.7 1449.1 1218.7 1452.6 1218.7C1456.1 1218.7 1459.6 1218.7 1463.2 1218.7C1466.7 1218.7 1470.2 1218.7 1473.7 1218.7C1477.2 1218.7 1480.7 1218.7 1484.2 1218.7C1487.7 1218.7 1491.2 1218.7 1494.7 1218.7C1498.2 1218.7 1501.8 1218.7 1505.3 1218.7C1508.8 1218.7 1512.3 1218.7 1515.8 1218.7C1519.3 1218.7 1522.8 1218.7 1526.3 1218.6C1529.8 1218.6 1533.3 1218.6 1536.8 1218.6C1540.4 1218.6 1543.9 1218.6 1547.4 1218.6C1550.9 1218.6 1554.4 1218.6 1557.9 1218.6C1561.4 1218.6 1564.9 1218.6 1568.4 1218.6C1571.9 1218.6 1575.4 1218.6 1578.9 1218.6C1582.5 1218.6 1586 1218.6 1589.5 1218.6C1593 1218.6 1596.5 1218.6 1600 1218.6C1603.6 1218.6 1607.3 1218.6 1610.9 1218.6C1614.5 1218.6 1618.2 1218.6 1621.8 1218.6C1625.5 1218.6 1629.1 1218.6 1632.7 1218.6C1636.4 1218.6 1640 1218.6 1643.6 1218.6C1647.3 1218.6 1650.9 1218.6 1654.5 1218.5C1658.2 1218.5 1661.8 1218.5 1665.5 1218.5C1669.1 1218.5 1672.7 1218.5 1676.4 1218.5C1680 1218.5 1683.6 1218.5 1687.3 1218.5C1690.9 1218.5 1694.5 1218.5 1698.2 1218.5C1701.8 1218.5 1705.5 1218.5 1709.1 1218.5C1712.7 1218.5 1716.4 1218.5 1720 1218.5C1723.6 1218.5 1727.2 1218.5 1730.8 1218.5C1734.3 1218.5 1737.9 1218.5 1741.5 1218.5C1745.1 1218.6 1748.7 1218.6 1752.2 1218.6C1755.8 1218.6 1759.4 1218.6 1763 1218.7C1766.6 1218.7 1770.2 1218.7 1773.8 1218.7C1777.3 1218.8 1780.9 1218.8 1784.5 1218.8C1788.1 1218.8 1791.7 1218.9 1795.2 1218.9C1798.8 1218.9 1802.4 1219 1806 1219"/>
</g>
<g id="legend" class="lg">
<text class="it" transform="matrix(1.0150 0 0 0.975 283.21 117.80)">L</text>
<text class="sub" transform="matrix(1.0037 0 0 0.920 325.51 132.10)">p</text>
<text class="eq" transform="matrix(1.1500 0 0 0.820 362.95 112.60)">=</text>
<text transform="matrix(0.9938 0 0 0.990 420.13 117.80)">13.3 nm,</text>
<text class="it" transform="matrix(1.0175 0 0 0.975 698.82 117.80)">L</text>
<text class="sub" transform="matrix(0.9286 0 0 0.920 742.40 132.10)">c</text>
<text class="eq" transform="matrix(1.1813 0 0 0.820 774.86 112.60)">=</text>
<text transform="matrix(0.9867 0 0 0.990 833.63 117.80)">0</text>
<text transform="matrix(0.9964 0 0 0.990 883.90 117.80)">nm:</text>
<text transform="matrix(1.0057 0 0 0.990 1167.48 117.80)">Si</text>
<text transform="matrix(1.0101 0 0 0.990 1441.57 117.80)">Ge</text>
<text class="it" transform="matrix(1.0150 0 0 0.975 283.21 201.80)">L</text>
<text class="sub" transform="matrix(1.0037 0 0 0.920 325.51 216.10)">p</text>
<text class="eq" transform="matrix(1.1500 0 0 0.820 362.95 196.60)">=</text>
<text transform="matrix(0.9868 0 0 0.990 422.60 201.80)">4.4 nm,</text>
<text class="it" transform="matrix(1.0175 0 0 0.975 698.82 201.80)">L</text>
<text class="sub" transform="matrix(0.9286 0 0 0.920 742.40 216.10)">c</text>
<text class="eq" transform="matrix(1.1813 0 0 0.820 774.86 196.60)">=</text>
<text transform="matrix(0.9867 0 0 0.990 833.63 201.80)">0</text>
<text transform="matrix(0.9964 0 0 0.990 883.90 201.80)">nm:</text>
<text transform="matrix(1.0057 0 0 0.990 1167.48 201.80)">Si</text>
<text transform="matrix(1.0101 0 0 0.990 1441.57 201.80)">Ge</text>
<text class="it" transform="matrix(1.0150 0 0 0.975 283.21 290.00)">L</text>
<text class="sub" transform="matrix(1.0037 0 0 0.920 325.51 304.30)">p</text>
<text class="eq" transform="matrix(1.1500 0 0 0.820 362.95 284.80)">=</text>
<text transform="matrix(0.9986 0 0 0.990 420.01 290.00)">1.1 nm,</text>
<text class="it" transform="matrix(1.0175 0 0 0.975 698.82 290.00)">L</text>
<text class="sub" transform="matrix(0.9286 0 0 0.920 742.40 304.30)">c</text>
<text class="eq" transform="matrix(1.1813 0 0 0.820 774.86 284.80)">=</text>
<text transform="matrix(0.9867 0 0 0.990 833.63 290.00)">0</text>
<text transform="matrix(0.9964 0 0 0.990 883.90 290.00)">nm:</text>
<text transform="matrix(1.0057 0 0 0.990 1167.48 290.00)">Si</text>
<text transform="matrix(1.0101 0 0 0.990 1441.57 290.00)">Ge</text>
<text class="it" transform="matrix(1.0150 0 0 0.975 283.21 380.00)">L</text>
<text class="sub" transform="matrix(1.0037 0 0 0.920 325.51 394.30)">p</text>
<text class="eq" transform="matrix(1.1500 0 0 0.820 362.95 374.80)">=</text>
<text transform="matrix(0.9986 0 0 0.990 420.01 380.00)">1.1 nm,</text>
<text class="it" transform="matrix(1.0175 0 0 0.975 648.72 380.00)">L</text>
<text class="sub" transform="matrix(0.9143 0 0 0.920 692.30 394.30)">c</text>
<text class="eq" transform="matrix(1.1844 0 0 0.820 723.55 374.80)">=</text>
<text transform="matrix(0.9889 0 0 0.990 781.92 380.00)">2.2</text>
<text transform="matrix(0.9982 0 0 0.990 883.80 380.00)">nm:</text>
<text transform="matrix(1.0057 0 0 0.990 1167.48 380.00)">Si</text>
<text transform="matrix(1.0101 0 0 0.990 1441.57 380.00)">Ge</text>
<text transform="matrix(0.9865 0 0 0.990 636.00 460.90)">pristine NW:</text>
<text transform="matrix(0.9943 0 0 0.990 1173.82 460.90)">Si</text>
<text transform="matrix(1.0089 0 0 0.990 1449.27 460.90)">Ge</text>
</g>
<g id="legendlines" fill="none" stroke-width="5.8">
<path d="M1062.8 97.0H1140.4" stroke="#000000" stroke-dasharray="20.5 5.5 10 5"/>
<path d="M1312.7 93.4H1398.1" stroke="#000000" stroke-width="6.4"/>
<path d="M1062.8 183.0H1140.4" stroke="#75fb4c" stroke-dasharray="20.5 5.5 10 5"/>
<path d="M1312.7 187.9H1398.1" stroke="#75fb4c" stroke-width="6.4"/>
<path d="M1062.8 268.8H1140.4" stroke="#ea3323" stroke-dasharray="20.5 5.5 10 5"/>
<path d="M1312.7 282.5H1398.1" stroke="#ea3323" stroke-width="6.4"/>
<path d="M1062.8 354.8H1140.4" stroke="#0b24f5" stroke-dasharray="20.5 5.5 10 5"/>
<path d="M1312.7 364.4H1398.1" stroke="#0b24f5" stroke-width="6.4"/>
<path d="M1062.8 440.6H1140.4" stroke="#76923c" stroke-dasharray="20.5 5.5 10 5"/>
<path d="M1312.7 434.4H1398.1" stroke="#76923c" stroke-width="6.4"/>
<path d="M1058.0 89.6V96.8" stroke="#000000" stroke-width="1.8" stroke-opacity="0.55"/>
<path d="M1058.3 184.0V191.0" stroke="#75fb4c" stroke-width="1.8" stroke-opacity="0.55"/>
<path d="M1058.0 278.0V285.4" stroke="#ea3323" stroke-width="1.8" stroke-opacity="0.55"/>
<path d="M1058.0 372.4V378.8" stroke="#0b24f5" stroke-width="1.8" stroke-opacity="0.55"/>
<path d="M1406.0 369.6V374.2" stroke="#0b24f5" stroke-width="1.8" stroke-opacity="0.55"/>
</g>
</svg>
</body></html>
